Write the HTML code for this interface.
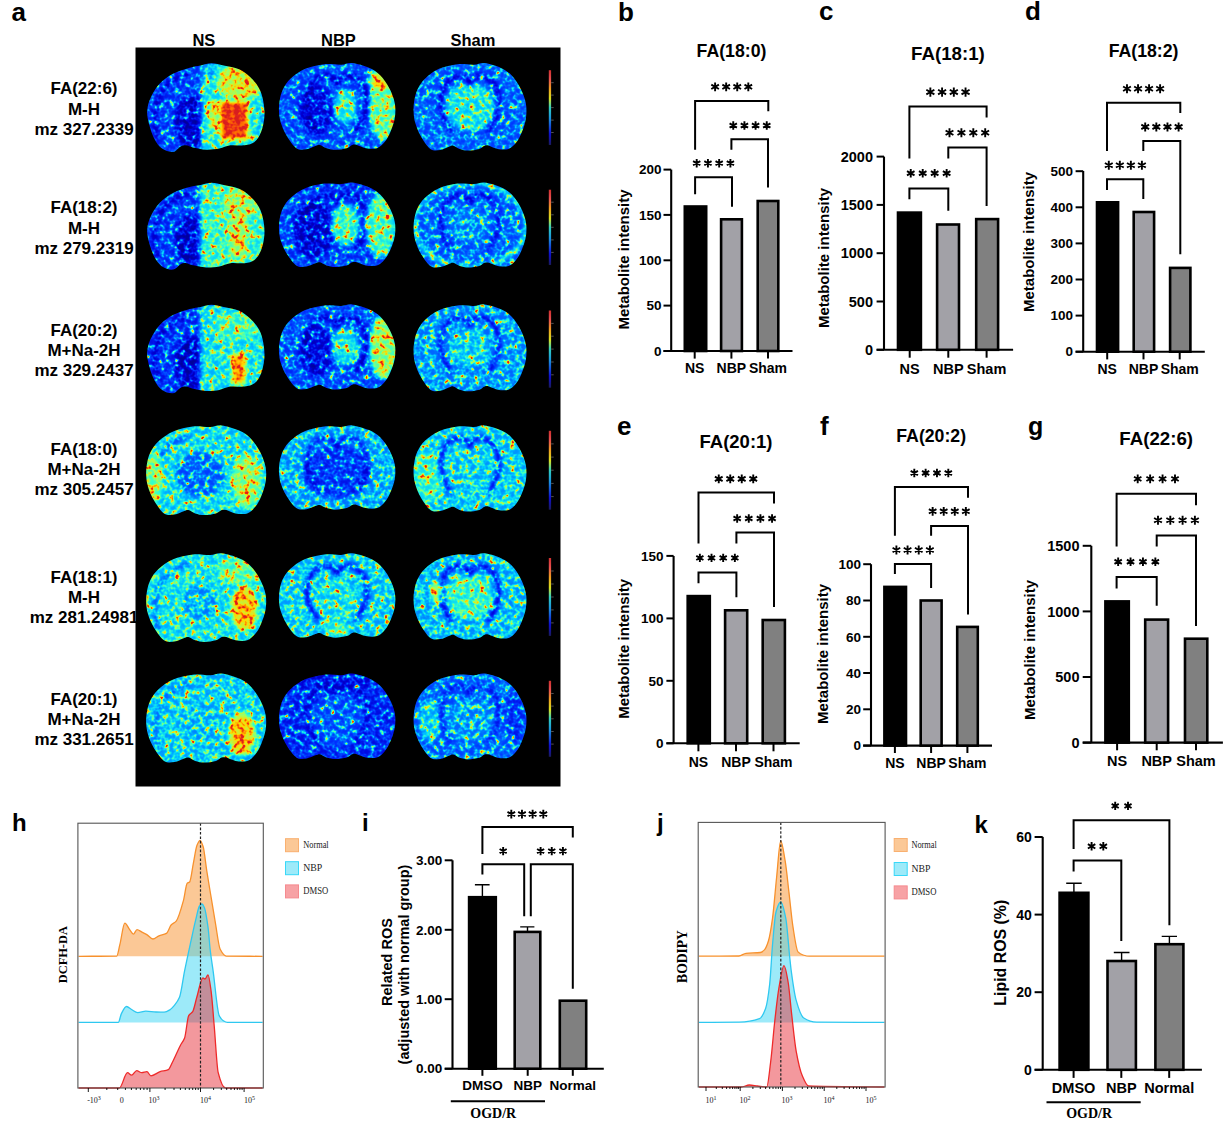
<!DOCTYPE html>
<html><head><meta charset="utf-8"><title>Figure</title>
<style>html,body{margin:0;padding:0;background:#fff;overflow:hidden}svg{display:block}</style></head>
<body><svg width="1226" height="1129" viewBox="0 0 1226 1129">
<defs>
<filter id='jet' filterUnits='userSpaceOnUse' x='136' y='48' width='424' height='738' color-interpolation-filters='sRGB'>
<feGaussianBlur in='SourceGraphic' stdDeviation='2' result='src'/>
<feTurbulence type='fractalNoise' baseFrequency='0.2' numOctaves='2' seed='7' result='n0'/>
<feColorMatrix in='n0' type='matrix' values='1 0 0 0 0  1 0 0 0 0  1 0 0 0 0  0 0 0 0 1' result='n1'/>
<feComponentTransfer in='n1' result='n2'>
<feFuncR type='gamma' amplitude='1.3' exponent='4.0' offset='0'/>
<feFuncG type='gamma' amplitude='1.3' exponent='4.0' offset='0'/>
<feFuncB type='gamma' amplitude='1.3' exponent='4.0' offset='0'/>
</feComponentTransfer>
<feComposite in='src' in2='n2' operator='arithmetic' k1='0' k2='1' k3='1' k4='-0.082' result='sum'/>
<feColorMatrix in='sum' type='matrix' values='1 0 0 0 0  1 0 0 0 0  1 0 0 0 0  0 0 0 0 1' result='sum2'/>
<feComponentTransfer in='sum2'>
<feFuncR type='table' tableValues='0 0 0 0 0 0.2 0.65 1 1 0.9 0.85'/>
<feFuncG type='table' tableValues='0 0 0.2 0.45 0.8 1 1 0.85 0.45 0.15 0.12'/>
<feFuncB type='table' tableValues='0.55 0.85 1 1 1 0.8 0.35 0 0 0.1 0.12'/>
</feComponentTransfer>
</filter>
<clipPath id='br00'><path d='M211.60 63.30C215.45 63.30 219.12 64.50 223.70 65.50C228.28 66.50 234.70 67.38 239.10 69.30C243.50 71.22 246.80 73.88 250.10 77.00C253.40 80.12 256.70 83.95 258.90 88.00C261.10 92.05 262.38 96.52 263.30 101.30C264.22 106.08 264.77 111.57 264.40 116.70C264.03 121.83 262.75 127.88 261.10 132.10C259.45 136.32 257.25 139.80 254.50 142.00C251.75 144.20 248.63 144.75 244.60 145.30C240.57 145.85 234.52 144.75 230.30 145.30C226.08 145.85 223.33 147.87 219.30 148.60C215.27 149.33 210.50 149.88 206.10 149.70C201.70 149.52 196.20 148.23 192.90 147.50C189.60 146.77 188.33 145.48 186.30 145.30C184.27 145.12 182.92 145.30 180.70 146.40C178.48 147.50 176.12 151.53 173.00 151.90C169.88 152.27 165.12 150.80 162.00 148.60C158.88 146.40 156.50 142.92 154.30 138.70C152.10 134.48 149.98 128.07 148.80 123.30C147.62 118.53 146.83 114.50 147.20 110.10C147.57 105.70 148.90 101.32 151.00 96.90C153.10 92.48 156.13 87.47 159.80 83.60C163.47 79.73 168.03 76.35 173.00 73.70C177.97 71.05 185.00 69.07 189.60 67.70C194.20 66.33 196.93 66.23 200.60 65.50C204.27 64.77 207.75 63.30 211.60 63.30Z'/></clipPath>
<clipPath id='br01'><path d='M279.58 101.02C280.24 97.27 281.09 93.05 282.94 89.30C284.80 85.55 287.00 81.95 290.71 78.54C294.41 75.12 299.61 71.22 305.19 68.82C310.78 66.41 318.23 64.82 324.20 64.13C330.17 63.43 336.33 64.84 341.01 64.65C345.68 64.46 347.57 62.46 352.25 63.00C356.92 63.54 364.40 65.81 369.05 67.86C373.71 69.92 376.82 71.95 380.18 75.33C383.54 78.70 386.79 83.44 389.22 88.09C391.65 92.73 393.86 98.18 394.78 103.19C395.71 108.19 395.52 113.30 394.78 118.12C394.05 122.94 392.04 128.14 390.38 132.09C388.72 136.04 387.06 139.14 384.82 141.81C382.58 144.49 380.12 147.09 376.94 148.15C373.75 149.21 369.05 148.69 365.69 148.15C362.33 147.62 359.01 145.47 356.77 144.94C354.53 144.40 353.93 144.40 352.25 144.94C350.57 145.47 349.49 147.34 346.69 148.15C343.88 148.96 338.80 149.80 335.44 149.80C332.08 149.80 329.11 148.96 326.52 148.15C323.93 147.34 321.77 145.29 319.91 144.94C318.06 144.59 317.63 145.34 315.39 146.07C313.15 146.79 309.66 148.93 306.47 149.28C303.28 149.63 299.63 150.48 296.27 148.15C292.91 145.82 288.89 139.59 286.30 135.30C283.71 131.02 281.96 126.38 280.74 122.46C279.52 118.54 279.19 115.35 279.00 111.78C278.81 108.21 278.92 104.77 279.58 101.02Z'/></clipPath>
<clipPath id='br02'><path d='M414.16 101.37C414.80 97.59 415.62 93.32 417.42 89.54C419.22 85.76 421.36 82.13 424.95 78.68C428.55 75.23 433.59 71.29 439.00 68.87C444.42 66.45 451.65 64.84 457.44 64.14C463.22 63.44 469.20 64.85 473.73 64.66C478.27 64.47 480.10 62.46 484.64 63.00C489.17 63.54 496.42 65.83 500.93 67.91C505.45 69.98 508.47 72.04 511.73 75.44C514.98 78.84 518.13 83.63 520.49 88.32C522.85 93.00 524.99 98.51 525.89 103.56C526.79 108.61 526.60 113.76 525.89 118.63C525.18 123.49 523.23 128.74 521.62 132.73C520.01 136.72 518.39 139.84 516.22 142.54C514.05 145.24 511.67 147.87 508.58 148.94C505.49 150.00 500.93 149.48 497.68 148.94C494.42 148.40 491.19 146.23 489.02 145.69C486.85 145.15 486.27 145.15 484.64 145.69C483.01 146.23 481.96 148.12 479.24 148.94C476.53 149.75 471.60 150.60 468.34 150.60C465.08 150.60 462.19 149.75 459.68 148.94C457.17 148.12 455.08 146.04 453.28 145.69C451.48 145.34 451.07 146.10 448.89 146.83C446.72 147.56 443.33 149.72 440.24 150.07C437.15 150.42 433.61 151.29 430.35 148.94C427.09 146.58 423.19 140.29 420.68 135.97C418.17 131.65 416.47 126.96 415.29 123.01C414.11 119.05 413.79 115.84 413.60 112.23C413.41 108.62 413.53 105.15 414.16 101.37Z'/></clipPath>
<clipPath id='br10'><path d='M211.60 182.79C215.45 182.79 219.12 183.97 223.70 184.95C228.28 185.93 234.70 186.80 239.10 188.67C243.50 190.55 246.80 193.17 250.10 196.22C253.40 199.27 256.70 203.03 258.90 207.00C261.10 210.97 262.38 215.34 263.30 220.03C264.22 224.72 264.77 230.09 264.40 235.12C264.03 240.15 262.75 246.08 261.10 250.21C259.45 254.35 257.25 257.76 254.50 259.92C251.75 262.07 248.63 262.61 244.60 263.15C240.57 263.69 234.52 262.61 230.30 263.15C226.08 263.69 223.33 265.67 219.30 266.38C215.27 267.10 210.50 267.64 206.10 267.46C201.70 267.28 196.20 266.02 192.90 265.31C189.60 264.59 188.33 263.33 186.30 263.15C184.27 262.97 182.92 263.15 180.70 264.23C178.48 265.31 176.12 269.26 173.00 269.62C169.88 269.98 165.12 268.54 162.00 266.38C158.88 264.23 156.50 260.81 154.30 256.68C152.10 252.55 149.98 246.26 148.80 241.59C147.62 236.92 146.83 232.97 147.20 228.66C147.57 224.34 148.90 220.05 151.00 215.72C153.10 211.39 156.13 206.48 159.80 202.69C163.47 198.90 168.03 195.58 173.00 192.99C177.97 190.39 185.00 188.45 189.60 187.11C194.20 185.77 196.93 185.67 200.60 184.95C204.27 184.23 207.75 182.79 211.60 182.79Z'/></clipPath>
<clipPath id='br11'><path d='M279.58 219.51C280.24 215.86 281.09 211.75 282.94 208.10C284.80 204.46 287.00 200.95 290.71 197.63C294.41 194.30 299.61 190.50 305.19 188.16C310.78 185.82 318.23 184.27 324.20 183.60C330.17 182.92 336.33 184.29 341.01 184.11C345.68 183.92 347.57 181.98 352.25 182.50C356.92 183.02 364.40 185.23 369.05 187.23C373.71 189.23 376.82 191.22 380.18 194.50C383.54 197.78 386.79 202.40 389.22 206.92C391.65 211.44 393.86 216.75 394.78 221.62C395.71 226.50 395.52 231.47 394.78 236.16C394.05 240.85 392.04 245.92 390.38 249.76C388.72 253.61 387.06 256.62 384.82 259.23C382.58 261.83 380.12 264.37 376.94 265.39C373.75 266.42 369.05 265.92 365.69 265.39C362.33 264.87 359.01 262.79 356.77 262.27C354.53 261.75 353.93 261.75 352.25 262.27C350.57 262.79 349.49 264.61 346.69 265.39C343.88 266.18 338.80 267.00 335.44 267.00C332.08 267.00 329.11 266.18 326.52 265.39C323.93 264.61 321.77 262.61 319.91 262.27C318.06 261.93 317.63 262.66 315.39 263.37C313.15 264.07 309.66 266.15 306.47 266.49C303.28 266.83 299.63 267.66 296.27 265.39C292.91 263.13 288.89 257.06 286.30 252.89C283.71 248.72 281.96 244.20 280.74 240.38C279.52 236.57 279.19 233.47 279.00 229.99C278.81 226.51 278.92 223.16 279.58 219.51Z'/></clipPath>
<clipPath id='br12'><path d='M414.16 219.77C414.80 216.10 415.62 211.96 417.42 208.29C419.22 204.61 421.36 201.08 424.95 197.73C428.55 194.39 433.59 190.56 439.00 188.20C444.42 185.85 451.65 184.29 457.44 183.61C463.22 182.93 469.20 184.30 473.73 184.12C478.27 183.93 480.10 181.98 484.64 182.50C489.17 183.02 496.42 185.25 500.93 187.27C505.45 189.28 508.47 191.28 511.73 194.58C514.98 197.89 518.13 202.54 520.49 207.09C522.85 211.65 524.99 216.99 525.89 221.90C526.79 226.81 526.60 231.82 525.89 236.54C525.18 241.26 523.23 246.37 521.62 250.24C520.01 254.11 518.39 257.15 516.22 259.77C514.05 262.39 511.67 264.95 508.58 265.98C505.49 267.02 500.93 266.51 497.68 265.98C494.42 265.46 491.19 263.36 489.02 262.83C486.85 262.31 486.27 262.31 484.64 262.83C483.01 263.36 481.96 265.19 479.24 265.98C476.53 266.78 471.60 267.60 468.34 267.60C465.08 267.60 462.19 266.78 459.68 265.98C457.17 265.19 455.08 263.17 453.28 262.83C451.48 262.49 451.07 263.23 448.89 263.94C446.72 264.65 443.33 266.75 440.24 267.09C437.15 267.43 433.61 268.27 430.35 265.98C427.09 263.70 423.19 257.59 420.68 253.39C418.17 249.19 416.47 244.64 415.29 240.79C414.11 236.95 413.79 233.83 413.60 230.33C413.41 226.82 413.53 223.45 414.16 219.77Z'/></clipPath>
<clipPath id='br20'><path d='M211.60 304.70C215.45 304.70 219.12 305.90 223.70 306.90C228.28 307.90 234.70 308.78 239.10 310.69C243.50 312.61 246.80 315.27 250.10 318.38C253.40 321.50 256.70 325.33 258.90 329.37C261.10 333.42 262.38 337.88 263.30 342.66C264.22 347.44 264.77 352.91 264.40 358.04C264.03 363.17 262.75 369.21 261.10 373.42C259.45 377.64 257.25 381.11 254.50 383.31C251.75 385.51 248.63 386.06 244.60 386.61C240.57 387.16 234.52 386.06 230.30 386.61C226.08 387.16 223.33 389.17 219.30 389.90C215.27 390.64 210.50 391.19 206.10 391.00C201.70 390.82 196.20 389.54 192.90 388.81C189.60 388.07 188.33 386.79 186.30 386.61C184.27 386.43 182.92 386.61 180.70 387.71C178.48 388.81 176.12 392.83 173.00 393.20C169.88 393.57 165.12 392.10 162.00 389.90C158.88 387.71 156.50 384.23 154.30 380.02C152.10 375.80 149.98 369.39 148.80 364.63C147.62 359.87 146.83 355.84 147.20 351.45C147.57 347.05 148.90 342.67 151.00 338.26C153.10 333.85 156.13 328.84 159.80 324.98C163.47 321.11 168.03 317.74 173.00 315.09C177.97 312.44 185.00 310.46 189.60 309.09C194.20 307.73 196.93 307.63 200.60 306.90C204.27 306.16 207.75 304.70 211.60 304.70Z'/></clipPath>
<clipPath id='br21'><path d='M279.58 341.67C280.24 338.00 281.09 333.86 282.94 330.19C284.80 326.51 287.00 322.98 290.71 319.63C294.41 316.29 299.61 312.46 305.19 310.10C310.78 307.75 318.23 306.19 324.20 305.51C330.17 304.83 336.33 306.20 341.01 306.02C345.68 305.83 347.57 303.88 352.25 304.40C356.92 304.92 364.40 307.15 369.05 309.17C373.71 311.18 376.82 313.18 380.18 316.48C383.54 319.79 386.79 324.44 389.22 328.99C391.65 333.55 393.86 338.89 394.78 343.80C395.71 348.71 395.52 353.72 394.78 358.44C394.05 363.16 392.04 368.27 390.38 372.14C388.72 376.01 387.06 379.05 384.82 381.67C382.58 384.29 380.12 386.85 376.94 387.88C373.75 388.92 369.05 388.41 365.69 387.88C362.33 387.36 359.01 385.26 356.77 384.73C354.53 384.21 353.93 384.21 352.25 384.73C350.57 385.26 349.49 387.09 346.69 387.88C343.88 388.68 338.80 389.50 335.44 389.50C332.08 389.50 329.11 388.68 326.52 387.88C323.93 387.09 321.77 385.07 319.91 384.73C318.06 384.39 317.63 385.13 315.39 385.84C313.15 386.55 309.66 388.65 306.47 388.99C303.28 389.33 299.63 390.17 296.27 387.88C292.91 385.60 288.89 379.49 286.30 375.29C283.71 371.09 281.96 366.54 280.74 362.69C279.52 358.85 279.19 355.73 279.00 352.23C278.81 348.72 278.92 345.35 279.58 341.67Z'/></clipPath>
<clipPath id='br22'><path d='M414.16 342.46C414.80 338.71 415.62 334.48 417.42 330.73C419.22 326.98 421.36 323.37 424.95 319.96C428.55 316.54 433.59 312.63 439.00 310.22C444.42 307.82 451.65 306.22 457.44 305.53C463.22 304.83 469.20 306.24 473.73 306.05C478.27 305.86 480.10 303.86 484.64 304.40C489.17 304.94 496.42 307.21 500.93 309.27C505.45 311.32 508.47 313.37 511.73 316.74C514.98 320.11 518.13 324.86 520.49 329.51C522.85 334.16 524.99 339.62 525.89 344.63C526.79 349.65 526.60 354.76 525.89 359.58C525.18 364.40 523.23 369.62 521.62 373.57C520.01 377.53 518.39 380.63 516.22 383.31C514.05 385.98 511.67 388.59 508.58 389.65C505.49 390.71 500.93 390.18 497.68 389.65C494.42 389.11 491.19 386.97 489.02 386.43C486.85 385.90 486.27 385.90 484.64 386.43C483.01 386.97 481.96 388.84 479.24 389.65C476.53 390.46 471.60 391.30 468.34 391.30C465.08 391.30 462.19 390.46 459.68 389.65C457.17 388.84 455.08 386.78 453.28 386.43C451.48 386.09 451.07 386.84 448.89 387.56C446.72 388.29 443.33 390.43 440.24 390.78C437.15 391.13 433.61 391.98 430.35 389.65C427.09 387.32 423.19 381.07 420.68 376.79C418.17 372.50 416.47 367.85 415.29 363.93C414.11 360.00 413.79 356.82 413.60 353.24C413.41 349.66 413.53 346.21 414.16 342.46Z'/></clipPath>
<clipPath id='br30'><path d='M146.80 464.69C147.47 460.82 148.35 456.45 150.26 452.58C152.17 448.71 154.45 444.98 158.27 441.46C162.09 437.93 167.45 433.89 173.21 431.41C178.96 428.93 186.65 427.28 192.81 426.57C198.96 425.85 205.31 427.30 210.13 427.10C214.95 426.91 216.90 424.85 221.72 425.40C226.54 425.95 234.25 428.30 239.05 430.42C243.85 432.55 247.06 434.65 250.52 438.14C253.99 441.62 257.33 446.52 259.84 451.32C262.35 456.12 264.62 461.76 265.58 466.93C266.54 472.10 266.34 477.38 265.58 482.36C264.82 487.34 262.75 492.72 261.04 496.80C259.33 500.88 257.61 504.08 255.30 506.85C252.99 509.61 250.46 512.30 247.18 513.40C243.89 514.49 239.05 513.95 235.59 513.40C232.12 512.84 228.69 510.63 226.38 510.08C224.07 509.52 223.46 509.52 221.72 510.08C219.99 510.63 218.88 512.56 215.99 513.40C213.10 514.23 207.86 515.10 204.40 515.10C200.93 515.10 197.86 514.23 195.19 513.40C192.53 512.56 190.30 510.44 188.38 510.08C186.47 509.72 186.03 510.50 183.72 511.24C181.41 511.99 177.81 514.20 174.52 514.56C171.24 514.92 167.47 515.80 164.01 513.40C160.54 510.99 156.40 504.55 153.73 500.12C151.06 495.69 149.25 490.90 147.99 486.84C146.74 482.79 146.40 479.50 146.20 475.81C146.00 472.12 146.12 468.56 146.80 464.69Z'/></clipPath>
<clipPath id='br31'><path d='M279.58 462.32C280.24 458.68 281.09 454.58 282.94 450.94C284.80 447.30 287.00 443.81 290.71 440.49C294.41 437.17 299.61 433.38 305.19 431.05C310.78 428.72 318.23 427.17 324.20 426.50C330.17 425.82 336.33 427.18 341.01 427.00C345.68 426.82 347.57 424.88 352.25 425.40C356.92 425.92 364.40 428.13 369.05 430.12C373.71 432.12 376.82 434.10 380.18 437.37C383.54 440.64 386.79 445.25 389.22 449.76C391.65 454.27 393.86 459.57 394.78 464.43C395.71 469.29 395.52 474.25 394.78 478.93C394.05 483.61 392.04 488.67 390.38 492.50C388.72 496.34 387.06 499.35 384.82 501.94C382.58 504.54 380.12 507.07 376.94 508.10C373.75 509.12 369.05 508.62 365.69 508.10C362.33 507.58 359.01 505.50 356.77 504.98C354.53 504.46 353.93 504.46 352.25 504.98C350.57 505.50 349.49 507.31 346.69 508.10C343.88 508.89 338.80 509.70 335.44 509.70C332.08 509.70 329.11 508.89 326.52 508.10C323.93 507.31 321.77 505.32 319.91 504.98C318.06 504.64 317.63 505.37 315.39 506.08C313.15 506.78 309.66 508.86 306.47 509.19C303.28 509.53 299.63 510.36 296.27 508.10C292.91 505.84 288.89 499.78 286.30 495.62C283.71 491.46 281.96 486.95 280.74 483.15C279.52 479.34 279.19 476.25 279.00 472.78C278.81 469.31 278.92 465.96 279.58 462.32Z'/></clipPath>
<clipPath id='br32'><path d='M414.16 463.16C414.80 459.43 415.62 455.24 417.42 451.52C419.22 447.80 421.36 444.22 424.95 440.83C428.55 437.44 433.59 433.56 439.00 431.18C444.42 428.79 451.65 427.21 457.44 426.52C463.22 425.83 469.20 427.22 473.73 427.04C478.27 426.85 480.10 424.87 484.64 425.40C489.17 425.93 496.42 428.19 500.93 430.23C505.45 432.27 508.47 434.29 511.73 437.64C514.98 440.99 518.13 445.70 520.49 450.31C522.85 454.92 524.99 460.34 525.89 465.31C526.79 470.28 526.60 475.35 525.89 480.14C525.18 484.92 523.23 490.09 521.62 494.02C520.01 497.94 518.39 501.01 516.22 503.67C514.05 506.33 511.67 508.91 508.58 509.96C505.49 511.01 500.93 510.49 497.68 509.96C494.42 509.43 491.19 507.30 489.02 506.77C486.85 506.24 486.27 506.24 484.64 506.77C483.01 507.30 481.96 509.16 479.24 509.96C476.53 510.77 471.60 511.60 468.34 511.60C465.08 511.60 462.19 510.77 459.68 509.96C457.17 509.16 455.08 507.12 453.28 506.77C451.48 506.43 451.07 507.18 448.89 507.89C446.72 508.61 443.33 510.74 440.24 511.08C437.15 511.43 433.61 512.28 430.35 509.96C427.09 507.65 423.19 501.46 420.68 497.20C418.17 492.95 416.47 488.34 415.29 484.45C414.11 480.55 413.79 477.39 413.60 473.84C413.41 470.30 413.53 466.88 414.16 463.16Z'/></clipPath>
<clipPath id='br40'><path d='M146.80 592.15C147.47 588.32 148.35 584.00 150.26 580.18C152.17 576.35 154.45 572.67 158.27 569.18C162.09 565.69 167.45 561.70 173.21 559.24C178.96 556.79 186.65 555.16 192.81 554.45C198.96 553.74 205.31 555.18 210.13 554.99C214.95 554.79 216.90 552.75 221.72 553.30C226.54 553.85 234.25 556.17 239.05 558.27C243.85 560.37 247.06 562.45 250.52 565.90C253.99 569.34 257.33 574.19 259.84 578.93C262.35 583.68 264.62 589.25 265.58 594.37C266.54 599.48 266.34 604.70 265.58 609.62C264.82 614.55 262.75 619.87 261.04 623.91C259.33 627.94 257.61 631.10 255.30 633.84C252.99 636.57 250.46 639.24 247.18 640.31C243.89 641.39 239.05 640.86 235.59 640.31C232.12 639.77 228.69 637.58 226.38 637.03C224.07 636.49 223.46 636.49 221.72 637.03C219.99 637.58 218.88 639.49 215.99 640.31C213.10 641.14 207.86 642.00 204.40 642.00C200.93 642.00 197.86 641.14 195.19 640.31C192.53 639.49 190.30 637.39 188.38 637.03C186.47 636.68 186.03 637.45 183.72 638.19C181.41 638.93 177.81 641.11 174.52 641.47C171.24 641.82 167.47 642.69 164.01 640.31C160.54 637.93 156.40 631.56 153.73 627.19C151.06 622.81 149.25 618.07 147.99 614.06C146.74 610.05 146.40 606.80 146.20 603.15C146.00 599.50 146.12 595.98 146.80 592.15Z'/></clipPath>
<clipPath id='br41'><path d='M279.58 590.27C280.24 586.62 281.09 582.52 282.94 578.87C284.80 575.23 287.00 571.73 290.71 568.41C294.41 565.09 299.61 561.29 305.19 558.95C310.78 556.62 318.23 555.07 324.20 554.40C330.17 553.72 336.33 555.09 341.01 554.90C345.68 554.72 347.57 552.78 352.25 553.30C356.92 553.82 364.40 556.03 369.05 558.03C373.71 560.02 376.82 562.01 380.18 565.28C383.54 568.56 386.79 573.18 389.22 577.69C391.65 582.21 393.86 587.51 394.78 592.38C395.71 597.24 395.52 602.21 394.78 606.89C394.05 611.58 392.04 616.64 390.38 620.48C388.72 624.32 387.06 627.33 384.82 629.94C382.58 632.54 380.12 635.07 376.94 636.10C373.75 637.12 369.05 636.62 365.69 636.10C362.33 635.58 359.01 633.49 356.77 632.97C354.53 632.45 353.93 632.45 352.25 632.97C350.57 633.49 349.49 635.31 346.69 636.10C343.88 636.88 338.80 637.70 335.44 637.70C332.08 637.70 329.11 636.88 326.52 636.10C323.93 635.31 321.77 633.31 319.91 632.97C318.06 632.64 317.63 633.37 315.39 634.07C313.15 634.77 309.66 636.86 306.47 637.19C303.28 637.53 299.63 638.36 296.27 636.10C292.91 633.83 288.89 627.77 286.30 623.61C283.71 619.44 281.96 614.93 280.74 611.11C279.52 607.30 279.19 604.21 279.00 600.73C278.81 597.26 278.92 593.91 279.58 590.27Z'/></clipPath>
<clipPath id='br42'><path d='M414.16 591.10C414.80 587.37 415.62 583.17 417.42 579.45C419.22 575.72 421.36 572.14 424.95 568.75C428.55 565.35 433.59 561.47 439.00 559.08C444.42 556.69 451.65 555.11 457.44 554.42C463.22 553.73 469.20 555.13 473.73 554.94C478.27 554.75 480.10 552.77 484.64 553.30C489.17 553.83 496.42 556.09 500.93 558.13C505.45 560.18 508.47 562.20 511.73 565.55C514.98 568.91 518.13 573.62 520.49 578.24C522.85 582.86 524.99 588.28 525.89 593.26C526.79 598.23 526.60 603.31 525.89 608.10C525.18 612.89 523.23 618.07 521.62 621.99C520.01 625.92 518.39 629.00 516.22 631.66C514.05 634.32 511.67 636.91 508.58 637.96C505.49 639.01 500.93 638.49 497.68 637.96C494.42 637.43 491.19 635.30 489.02 634.77C486.85 634.24 486.27 634.24 484.64 634.77C483.01 635.30 481.96 637.15 479.24 637.96C476.53 638.77 471.60 639.60 468.34 639.60C465.08 639.60 462.19 638.77 459.68 637.96C457.17 637.15 455.08 635.11 453.28 634.77C451.48 634.42 451.07 635.17 448.89 635.89C446.72 636.61 443.33 638.74 440.24 639.08C437.15 639.43 433.61 640.28 430.35 637.96C427.09 635.64 423.19 629.45 420.68 625.19C418.17 620.93 416.47 616.31 415.29 612.42C414.11 608.52 413.79 605.35 413.60 601.80C413.41 598.25 413.53 594.82 414.16 591.10Z'/></clipPath>
<clipPath id='br50'><path d='M146.80 712.58C147.47 708.74 148.35 704.41 150.26 700.57C152.17 696.73 154.45 693.03 158.27 689.53C162.09 686.03 167.45 682.03 173.21 679.56C178.96 677.10 186.65 675.47 192.81 674.76C198.96 674.05 205.31 675.48 210.13 675.29C214.95 675.10 216.90 673.05 221.72 673.60C226.54 674.15 234.25 676.48 239.05 678.58C243.85 680.69 247.06 682.78 250.52 686.24C253.99 689.69 257.33 694.56 259.84 699.32C262.35 704.08 264.62 709.67 265.58 714.81C266.54 719.94 266.34 725.18 265.58 730.12C264.82 735.05 262.75 740.39 261.04 744.44C259.33 748.49 257.61 751.67 255.30 754.41C252.99 757.16 250.46 759.83 247.18 760.91C243.89 761.99 239.05 761.46 235.59 760.91C232.12 760.36 228.69 758.16 226.38 757.62C224.07 757.07 223.46 757.07 221.72 757.62C219.99 758.16 218.88 760.08 215.99 760.91C213.10 761.74 207.86 762.60 204.40 762.60C200.93 762.60 197.86 761.74 195.19 760.91C192.53 760.08 190.30 757.97 188.38 757.62C186.47 757.26 186.03 758.03 183.72 758.77C181.41 759.51 177.81 761.71 174.52 762.07C171.24 762.42 167.47 763.30 164.01 760.91C160.54 758.52 156.40 752.13 153.73 747.74C151.06 743.35 149.25 738.58 147.99 734.57C146.74 730.55 146.40 727.28 146.20 723.62C146.00 719.95 146.12 716.42 146.80 712.58Z'/></clipPath>
<clipPath id='br51'><path d='M279.58 711.01C280.24 707.32 281.09 703.16 282.94 699.48C284.80 695.79 287.00 692.25 290.71 688.89C294.41 685.53 299.61 681.68 305.19 679.32C310.78 676.96 318.23 675.39 324.20 674.71C330.17 674.03 336.33 675.41 341.01 675.22C345.68 675.04 347.57 673.07 352.25 673.60C356.92 674.13 364.40 676.36 369.05 678.38C373.71 680.40 376.82 682.41 380.18 685.73C383.54 689.04 386.79 693.71 389.22 698.28C391.65 702.85 393.86 708.22 394.78 713.14C395.71 718.06 395.52 723.09 394.78 727.83C394.05 732.57 392.04 737.69 390.38 741.58C388.72 745.46 387.06 748.51 384.82 751.14C382.58 753.78 380.12 756.34 376.94 757.38C373.75 758.42 369.05 757.90 365.69 757.38C362.33 756.85 359.01 754.74 356.77 754.22C354.53 753.69 353.93 753.69 352.25 754.22C350.57 754.74 349.49 756.58 346.69 757.38C343.88 758.17 338.80 759.00 335.44 759.00C332.08 759.00 329.11 758.17 326.52 757.38C323.93 756.58 321.77 754.56 319.91 754.22C318.06 753.88 317.63 754.62 315.39 755.33C313.15 756.04 309.66 758.15 306.47 758.49C303.28 758.83 299.63 759.67 296.27 757.38C292.91 755.09 288.89 748.95 286.30 744.74C283.71 740.53 281.96 735.96 280.74 732.10C279.52 728.24 279.19 725.11 279.00 721.59C278.81 718.08 278.92 714.69 279.58 711.01Z'/></clipPath>
<clipPath id='br52'><path d='M414.16 711.18C414.80 707.48 415.62 703.30 417.42 699.60C419.22 695.89 421.36 692.33 424.95 688.96C428.55 685.58 433.59 681.72 439.00 679.35C444.42 676.97 451.65 675.40 457.44 674.72C463.22 674.03 469.20 675.42 473.73 675.23C478.27 675.04 480.10 673.07 484.64 673.60C489.17 674.13 496.42 676.37 500.93 678.40C505.45 680.44 508.47 682.45 511.73 685.78C514.98 689.12 518.13 693.81 520.49 698.40C522.85 702.99 524.99 708.38 525.89 713.33C526.79 718.27 526.60 723.32 525.89 728.08C525.18 732.84 523.23 737.99 521.62 741.90C520.01 745.80 518.39 748.86 516.22 751.51C514.05 754.15 511.67 756.73 508.58 757.77C505.49 758.81 500.93 758.30 497.68 757.77C494.42 757.24 491.19 755.12 489.02 754.60C486.85 754.07 486.27 754.07 484.64 754.60C483.01 755.12 481.96 756.97 479.24 757.77C476.53 758.57 471.60 759.40 468.34 759.40C465.08 759.40 462.19 758.57 459.68 757.77C457.17 756.97 455.08 754.94 453.28 754.60C451.48 754.25 451.07 755.00 448.89 755.71C446.72 756.43 443.33 758.54 440.24 758.89C437.15 759.23 433.61 760.07 430.35 757.77C427.09 755.47 423.19 749.30 420.68 745.07C418.17 740.84 416.47 736.25 415.29 732.37C414.11 728.50 413.79 725.35 413.60 721.82C413.41 718.29 413.53 714.88 414.16 711.18Z'/></clipPath>
<linearGradient id='cbg' x1='0' y1='1' x2='0' y2='0'>
<stop offset='0' stop-color='#1a1a5a'/><stop offset='0.15' stop-color='#1010d0'/><stop offset='0.35' stop-color='#1a90e0'/>
<stop offset='0.5' stop-color='#30d0c0'/><stop offset='0.62' stop-color='#d8e020'/><stop offset='0.75' stop-color='#f0a020'/>
<stop offset='0.88' stop-color='#e85050'/><stop offset='1' stop-color='#d03030'/></linearGradient>
</defs>
<rect width="1226" height="1129" fill="#fff"/>
<path d='M671.2 169.6V351.0' stroke='#000' stroke-width='2.1' fill='none'/>
<path d='M663.5 351.0H792.5' stroke='#000' stroke-width='2.1' fill='none'/>
<path d='M663.5 351.0H671.2' stroke='#000' stroke-width='2' fill='none'/>
<text x='661.5' y='355.7' font-family="'Liberation Sans',sans-serif" font-weight='bold' font-size='13.5' text-anchor='end' fill='#000' >0</text>
<path d='M663.5 305.6H671.2' stroke='#000' stroke-width='2' fill='none'/>
<text x='661.5' y='310.4' font-family="'Liberation Sans',sans-serif" font-weight='bold' font-size='13.5' text-anchor='end' fill='#000' >50</text>
<path d='M663.5 260.3H671.2' stroke='#000' stroke-width='2' fill='none'/>
<text x='661.5' y='265.0' font-family="'Liberation Sans',sans-serif" font-weight='bold' font-size='13.5' text-anchor='end' fill='#000' >100</text>
<path d='M663.5 214.9H671.2' stroke='#000' stroke-width='2' fill='none'/>
<text x='661.5' y='219.7' font-family="'Liberation Sans',sans-serif" font-weight='bold' font-size='13.5' text-anchor='end' fill='#000' >150</text>
<path d='M663.5 169.6H671.2' stroke='#000' stroke-width='2' fill='none'/>
<text x='661.5' y='174.3' font-family="'Liberation Sans',sans-serif" font-weight='bold' font-size='13.5' text-anchor='end' fill='#000' >200</text>
<rect x='684.8' y='206.5' width='21.4' height='144.5' fill='#000000' stroke='#000' stroke-width='2.6'/>
<rect x='721.1' y='219.3' width='20.8' height='131.7' fill='#a2a1a7' stroke='#000' stroke-width='2.6'/>
<rect x='757.7' y='201.0' width='20.6' height='150.0' fill='#808080' stroke='#000' stroke-width='2.6'/>
<path d='M694.7 351.0V358.6' stroke='#000' stroke-width='2' fill='none'/>
<path d='M731.4 351.0V358.6' stroke='#000' stroke-width='2' fill='none'/>
<path d='M768.0 351.0V358.6' stroke='#000' stroke-width='2' fill='none'/>
<text x='694.7' y='373.3' font-family="'Liberation Sans',sans-serif" font-weight='bold' font-size='14' text-anchor='middle' fill='#000' >NS</text>
<text x='731.4' y='373.3' font-family="'Liberation Sans',sans-serif" font-weight='bold' font-size='14' text-anchor='middle' fill='#000' >NBP</text>
<text x='768.0' y='373.3' font-family="'Liberation Sans',sans-serif" font-weight='bold' font-size='14' text-anchor='middle' fill='#000' >Sham</text>
<text x='0.0' y='0.0' font-family="'Liberation Sans',sans-serif" font-weight='bold' font-size='15' text-anchor='middle' fill='#000' transform='translate(623.7,259.5) rotate(-90)' dominant-baseline='central'>Metabolite intensity</text>
<path d='M695.1 149.7V101.0H768.3V111.2M731.4 149.7V139.2H768.0V187.6M695.1 194.2V177.2H732.0V206.8' stroke='#000' stroke-width='2' fill='none' stroke-linejoin='miter'/>
<path d='M715.10 82.40V91.20M711.29 84.60L718.91 89.00M711.29 89.00L718.91 84.60M726.17 82.40V91.20M722.36 84.60L729.98 89.00M722.36 89.00L729.98 84.60M737.23 82.40V91.20M733.42 84.60L741.04 89.00M733.42 89.00L741.04 84.60M748.30 82.40V91.20M744.49 84.60L752.11 89.00M744.49 89.00L752.11 84.60M733.25 121.30V129.80M729.57 123.43L736.93 127.68M729.57 127.68L736.93 123.43M744.42 121.30V129.80M740.74 123.43L748.10 127.68M740.74 127.68L748.10 123.43M755.58 121.30V129.80M751.90 123.43L759.26 127.68M751.90 127.68L759.26 123.43M766.75 121.30V129.80M763.07 123.43L770.43 127.68M763.07 127.68L770.43 123.43M696.70 159.00V167.40M693.06 161.10L700.34 165.30M693.06 165.30L700.34 161.10M707.93 159.00V167.40M704.30 161.10L711.57 165.30M704.30 165.30L711.57 161.10M719.17 159.00V167.40M715.53 161.10L722.80 165.30M715.53 165.30L722.80 161.10M730.40 159.00V167.40M726.76 161.10L734.04 165.30M726.76 165.30L734.04 161.10' stroke='#000' stroke-width='1.9' fill='none'/>
<text x='731.5' y='56.7' font-family="'Liberation Sans',sans-serif" font-weight='bold' font-size='17.7' text-anchor='middle' fill='#000' >FA(18:0)</text>
<text x='618.0' y='20.9' font-family="'Liberation Sans',sans-serif" font-weight='bold' font-size='26' text-anchor='start' fill='#000' >b</text>
<path d='M884.0 156.6V349.8' stroke='#000' stroke-width='2.1' fill='none'/>
<path d='M876.6 349.8H1013.1' stroke='#000' stroke-width='2.1' fill='none'/>
<path d='M876.6 349.8H884.0' stroke='#000' stroke-width='2' fill='none'/>
<text x='873.0' y='354.9' font-family="'Liberation Sans',sans-serif" font-weight='bold' font-size='14.5' text-anchor='end' fill='#000' >0</text>
<path d='M876.6 301.5H884.0' stroke='#000' stroke-width='2' fill='none'/>
<text x='873.0' y='306.6' font-family="'Liberation Sans',sans-serif" font-weight='bold' font-size='14.5' text-anchor='end' fill='#000' >500</text>
<path d='M876.6 253.2H884.0' stroke='#000' stroke-width='2' fill='none'/>
<text x='873.0' y='258.3' font-family="'Liberation Sans',sans-serif" font-weight='bold' font-size='14.5' text-anchor='end' fill='#000' >1000</text>
<path d='M876.6 204.9H884.0' stroke='#000' stroke-width='2' fill='none'/>
<text x='873.0' y='210.0' font-family="'Liberation Sans',sans-serif" font-weight='bold' font-size='14.5' text-anchor='end' fill='#000' >1500</text>
<path d='M876.6 156.6H884.0' stroke='#000' stroke-width='2' fill='none'/>
<text x='873.0' y='161.7' font-family="'Liberation Sans',sans-serif" font-weight='bold' font-size='14.5' text-anchor='end' fill='#000' >2000</text>
<rect x='898.0' y='212.6' width='22.9' height='137.2' fill='#000000' stroke='#000' stroke-width='2.6'/>
<rect x='937.1' y='224.5' width='21.9' height='125.3' fill='#a2a1a7' stroke='#000' stroke-width='2.6'/>
<rect x='976.2' y='219.1' width='21.9' height='130.7' fill='#808080' stroke='#000' stroke-width='2.6'/>
<path d='M909.7 349.8V357.7' stroke='#000' stroke-width='2' fill='none'/>
<path d='M948.3 349.8V357.7' stroke='#000' stroke-width='2' fill='none'/>
<path d='M986.6 349.8V357.7' stroke='#000' stroke-width='2' fill='none'/>
<text x='909.7' y='373.5' font-family="'Liberation Sans',sans-serif" font-weight='bold' font-size='14.5' text-anchor='middle' fill='#000' >NS</text>
<text x='948.3' y='373.5' font-family="'Liberation Sans',sans-serif" font-weight='bold' font-size='14.5' text-anchor='middle' fill='#000' >NBP</text>
<text x='986.6' y='373.5' font-family="'Liberation Sans',sans-serif" font-weight='bold' font-size='14.5' text-anchor='middle' fill='#000' >Sham</text>
<text x='0.0' y='0.0' font-family="'Liberation Sans',sans-serif" font-weight='bold' font-size='15' text-anchor='middle' fill='#000' transform='translate(823.9,258.0) rotate(-90)' dominant-baseline='central'>Metabolite intensity</text>
<path d='M909.4 158.5V106.4H986.6V117.6M948.3 158.5V147.5H986.6V206.0M909.4 199.2V188.4H948.3V210.7' stroke='#000' stroke-width='2' fill='none' stroke-linejoin='miter'/>
<path d='M930.35 87.40V96.70M926.32 89.73L934.38 94.38M926.32 94.38L934.38 89.73M942.08 87.40V96.70M938.06 89.73L946.11 94.38M938.06 94.38L946.11 89.73M953.82 87.40V96.70M949.79 89.73L957.84 94.38M949.79 94.38L957.84 89.73M965.55 87.40V96.70M961.52 89.73L969.58 94.38M961.52 94.38L969.58 89.73M949.50 128.30V137.30M945.60 130.55L953.40 135.05M945.60 135.05L953.40 130.55M961.40 128.30V137.30M957.50 130.55L965.30 135.05M957.50 135.05L965.30 130.55M973.30 128.30V137.30M969.40 130.55L977.20 135.05M969.40 135.05L977.20 130.55M985.20 128.30V137.30M981.30 130.55L989.10 135.05M981.30 135.05L989.10 130.55M910.75 168.90V177.60M906.98 171.08L914.52 175.42M906.98 175.42L914.52 171.08M922.72 168.90V177.60M918.95 171.08L926.48 175.42M918.95 175.42L926.48 171.08M934.68 168.90V177.60M930.92 171.08L938.45 175.42M930.92 175.42L938.45 171.08M946.65 168.90V177.60M942.88 171.08L950.42 175.42M942.88 175.42L950.42 171.08' stroke='#000' stroke-width='1.9' fill='none'/>
<text x='947.9' y='59.9' font-family="'Liberation Sans',sans-serif" font-weight='bold' font-size='18.7' text-anchor='middle' fill='#000' >FA(18:1)</text>
<text x='819.0' y='20.1' font-family="'Liberation Sans',sans-serif" font-weight='bold' font-size='26' text-anchor='start' fill='#000' >c</text>
<path d='M1083.2 171.0V351.7' stroke='#000' stroke-width='2.1' fill='none'/>
<path d='M1075.6 351.7H1204.8' stroke='#000' stroke-width='2.1' fill='none'/>
<path d='M1075.6 351.7H1083.2' stroke='#000' stroke-width='2' fill='none'/>
<text x='1073.0' y='356.4' font-family="'Liberation Sans',sans-serif" font-weight='bold' font-size='13.5' text-anchor='end' fill='#000' >0</text>
<path d='M1075.6 315.6H1083.2' stroke='#000' stroke-width='2' fill='none'/>
<text x='1073.0' y='320.3' font-family="'Liberation Sans',sans-serif" font-weight='bold' font-size='13.5' text-anchor='end' fill='#000' >100</text>
<path d='M1075.6 279.5H1083.2' stroke='#000' stroke-width='2' fill='none'/>
<text x='1073.0' y='284.2' font-family="'Liberation Sans',sans-serif" font-weight='bold' font-size='13.5' text-anchor='end' fill='#000' >200</text>
<path d='M1075.6 243.4H1083.2' stroke='#000' stroke-width='2' fill='none'/>
<text x='1073.0' y='248.1' font-family="'Liberation Sans',sans-serif" font-weight='bold' font-size='13.5' text-anchor='end' fill='#000' >300</text>
<path d='M1075.6 207.3H1083.2' stroke='#000' stroke-width='2' fill='none'/>
<text x='1073.0' y='212.0' font-family="'Liberation Sans',sans-serif" font-weight='bold' font-size='13.5' text-anchor='end' fill='#000' >400</text>
<path d='M1075.6 171.2H1083.2' stroke='#000' stroke-width='2' fill='none'/>
<text x='1073.0' y='175.9' font-family="'Liberation Sans',sans-serif" font-weight='bold' font-size='13.5' text-anchor='end' fill='#000' >500</text>
<rect x='1097.0' y='202.3' width='21.1' height='149.4' fill='#000000' stroke='#000' stroke-width='2.6'/>
<rect x='1133.7' y='212.0' width='20.4' height='139.7' fill='#a2a1a7' stroke='#000' stroke-width='2.6'/>
<rect x='1170.1' y='267.9' width='20.3' height='83.8' fill='#808080' stroke='#000' stroke-width='2.6'/>
<path d='M1107.2 351.7V359.4' stroke='#000' stroke-width='2' fill='none'/>
<path d='M1143.5 351.7V359.4' stroke='#000' stroke-width='2' fill='none'/>
<path d='M1179.7 351.7V359.4' stroke='#000' stroke-width='2' fill='none'/>
<text x='1107.2' y='374.3' font-family="'Liberation Sans',sans-serif" font-weight='bold' font-size='14' text-anchor='middle' fill='#000' >NS</text>
<text x='1143.5' y='374.3' font-family="'Liberation Sans',sans-serif" font-weight='bold' font-size='14' text-anchor='middle' fill='#000' >NBP</text>
<text x='1179.7' y='374.3' font-family="'Liberation Sans',sans-serif" font-weight='bold' font-size='14' text-anchor='middle' fill='#000' >Sham</text>
<text x='0.0' y='0.0' font-family="'Liberation Sans',sans-serif" font-weight='bold' font-size='15' text-anchor='middle' fill='#000' transform='translate(1028.0,242.0) rotate(-90)' dominant-baseline='central'>Metabolite intensity</text>
<path d='M1107.0 151.1V102.7H1180.3V112.9M1143.3 151.1V141.0H1180.3V254.2M1107.0 190.0V179.3H1143.3V199.0' stroke='#000' stroke-width='2' fill='none' stroke-linejoin='miter'/>
<path d='M1127.00 84.20V93.20M1123.10 86.45L1130.90 90.95M1123.10 90.95L1130.90 86.45M1138.03 84.20V93.20M1134.14 86.45L1141.93 90.95M1134.14 90.95L1141.93 86.45M1149.07 84.20V93.20M1145.17 86.45L1152.96 90.95M1145.17 90.95L1152.96 86.45M1160.10 84.20V93.20M1156.20 86.45L1164.00 90.95M1156.20 90.95L1164.00 86.45M1145.20 122.40V131.40M1141.30 124.65L1149.10 129.15M1141.30 129.15L1149.10 124.65M1156.33 122.40V131.40M1152.44 124.65L1160.23 129.15M1152.44 129.15L1160.23 124.65M1167.47 122.40V131.40M1163.57 124.65L1171.36 129.15M1163.57 129.15L1171.36 124.65M1178.60 122.40V131.40M1174.70 124.65L1182.50 129.15M1174.70 129.15L1182.50 124.65M1108.80 160.70V169.70M1104.90 162.95L1112.70 167.45M1104.90 167.45L1112.70 162.95M1119.83 160.70V169.70M1115.94 162.95L1123.73 167.45M1115.94 167.45L1123.73 162.95M1130.87 160.70V169.70M1126.97 162.95L1134.76 167.45M1126.97 167.45L1134.76 162.95M1141.90 160.70V169.70M1138.00 162.95L1145.80 167.45M1138.00 167.45L1145.80 162.95' stroke='#000' stroke-width='1.9' fill='none'/>
<text x='1143.6' y='57.4' font-family="'Liberation Sans',sans-serif" font-weight='bold' font-size='17.7' text-anchor='middle' fill='#000' >FA(18:2)</text>
<text x='1025.0' y='20.1' font-family="'Liberation Sans',sans-serif" font-weight='bold' font-size='26' text-anchor='start' fill='#000' >d</text>
<path d='M673.6 556.0V743.3' stroke='#000' stroke-width='2.1' fill='none'/>
<path d='M666.4 743.3H799.7' stroke='#000' stroke-width='2.1' fill='none'/>
<path d='M666.4 743.3H673.6' stroke='#000' stroke-width='2' fill='none'/>
<text x='663.5' y='748.0' font-family="'Liberation Sans',sans-serif" font-weight='bold' font-size='13.5' text-anchor='end' fill='#000' >0</text>
<path d='M666.4 680.8H673.6' stroke='#000' stroke-width='2' fill='none'/>
<text x='663.5' y='685.6' font-family="'Liberation Sans',sans-serif" font-weight='bold' font-size='13.5' text-anchor='end' fill='#000' >50</text>
<path d='M666.4 618.4H673.6' stroke='#000' stroke-width='2' fill='none'/>
<text x='663.5' y='623.1' font-family="'Liberation Sans',sans-serif" font-weight='bold' font-size='13.5' text-anchor='end' fill='#000' >100</text>
<path d='M666.4 555.9H673.6' stroke='#000' stroke-width='2' fill='none'/>
<text x='663.5' y='560.7' font-family="'Liberation Sans',sans-serif" font-weight='bold' font-size='13.5' text-anchor='end' fill='#000' >150</text>
<rect x='687.7' y='596.1' width='22.1' height='147.2' fill='#000000' stroke='#000' stroke-width='2.6'/>
<rect x='725.1' y='610.3' width='22.1' height='133.0' fill='#a2a1a7' stroke='#000' stroke-width='2.6'/>
<rect x='762.7' y='620.0' width='22.2' height='123.3' fill='#808080' stroke='#000' stroke-width='2.6'/>
<path d='M698.4 743.3V751.3' stroke='#000' stroke-width='2' fill='none'/>
<path d='M736.0 743.3V751.3' stroke='#000' stroke-width='2' fill='none'/>
<path d='M773.5 743.3V751.3' stroke='#000' stroke-width='2' fill='none'/>
<text x='698.4' y='766.5' font-family="'Liberation Sans',sans-serif" font-weight='bold' font-size='14' text-anchor='middle' fill='#000' >NS</text>
<text x='736.0' y='766.5' font-family="'Liberation Sans',sans-serif" font-weight='bold' font-size='14' text-anchor='middle' fill='#000' >NBP</text>
<text x='773.5' y='766.5' font-family="'Liberation Sans',sans-serif" font-weight='bold' font-size='14' text-anchor='middle' fill='#000' >Sham</text>
<text x='0.0' y='0.0' font-family="'Liberation Sans',sans-serif" font-weight='bold' font-size='15' text-anchor='middle' fill='#000' transform='translate(623.9,648.8) rotate(-90)' dominant-baseline='central'>Metabolite intensity</text>
<path d='M698.5 543.5V492.6H774.0V503.6M736.4 543.5V532.5H774.0V607.0M698.5 583.3V572.4H736.4V597.3' stroke='#000' stroke-width='2' fill='none' stroke-linejoin='miter'/>
<path d='M718.75 474.40V483.30M714.90 476.62L722.60 481.08M714.90 481.08L722.60 476.62M730.25 474.40V483.30M726.40 476.62L734.10 481.08M726.40 481.08L734.10 476.62M741.75 474.40V483.30M737.90 476.62L745.60 481.08M737.90 481.08L745.60 476.62M753.25 474.40V483.30M749.40 476.62L757.10 481.08M749.40 481.08L757.10 476.62M737.15 514.30V522.80M733.47 516.42L740.83 520.67M733.47 520.67L740.83 516.42M748.78 514.30V522.80M745.10 516.42L752.46 520.67M745.10 520.67L752.46 516.42M760.42 514.30V522.80M756.74 516.42L764.10 520.67M756.74 520.67L764.10 516.42M772.05 514.30V522.80M768.37 516.42L775.73 520.67M768.37 520.67L775.73 516.42M699.85 553.80V562.10M696.26 555.88L703.44 560.03M696.26 560.03L703.44 555.88M711.52 553.80V562.10M707.92 555.88L715.11 560.03M707.92 560.03L715.11 555.88M723.18 553.80V562.10M719.59 555.88L726.78 560.03M719.59 560.03L726.78 555.88M734.85 553.80V562.10M731.26 555.88L738.44 560.03M731.26 560.03L738.44 555.88' stroke='#000' stroke-width='1.9' fill='none'/>
<text x='736.0' y='447.5' font-family="'Liberation Sans',sans-serif" font-weight='bold' font-size='18.5' text-anchor='middle' fill='#000' >FA(20:1)</text>
<text x='617.0' y='435.4' font-family="'Liberation Sans',sans-serif" font-weight='bold' font-size='26' text-anchor='start' fill='#000' >e</text>
<path d='M871.0 564.2V745.6' stroke='#000' stroke-width='2.1' fill='none'/>
<path d='M863.2 745.6H992.0' stroke='#000' stroke-width='2.1' fill='none'/>
<path d='M863.2 745.6H871.0' stroke='#000' stroke-width='2' fill='none'/>
<text x='861.0' y='750.3' font-family="'Liberation Sans',sans-serif" font-weight='bold' font-size='13.5' text-anchor='end' fill='#000' >0</text>
<path d='M863.2 709.3H871.0' stroke='#000' stroke-width='2' fill='none'/>
<text x='861.0' y='714.0' font-family="'Liberation Sans',sans-serif" font-weight='bold' font-size='13.5' text-anchor='end' fill='#000' >20</text>
<path d='M863.2 673.0H871.0' stroke='#000' stroke-width='2' fill='none'/>
<text x='861.0' y='677.8' font-family="'Liberation Sans',sans-serif" font-weight='bold' font-size='13.5' text-anchor='end' fill='#000' >40</text>
<path d='M863.2 636.8H871.0' stroke='#000' stroke-width='2' fill='none'/>
<text x='861.0' y='641.5' font-family="'Liberation Sans',sans-serif" font-weight='bold' font-size='13.5' text-anchor='end' fill='#000' >60</text>
<path d='M863.2 600.5H871.0' stroke='#000' stroke-width='2' fill='none'/>
<text x='861.0' y='605.2' font-family="'Liberation Sans',sans-serif" font-weight='bold' font-size='13.5' text-anchor='end' fill='#000' >80</text>
<path d='M863.2 564.2H871.0' stroke='#000' stroke-width='2' fill='none'/>
<text x='861.0' y='568.9' font-family="'Liberation Sans',sans-serif" font-weight='bold' font-size='13.5' text-anchor='end' fill='#000' >100</text>
<rect x='884.4' y='586.9' width='21.6' height='158.7' fill='#000000' stroke='#000' stroke-width='2.6'/>
<rect x='920.7' y='600.5' width='20.9' height='145.1' fill='#a2a1a7' stroke='#000' stroke-width='2.6'/>
<rect x='957.2' y='626.9' width='20.6' height='118.7' fill='#808080' stroke='#000' stroke-width='2.6'/>
<path d='M894.9 745.6V753.0' stroke='#000' stroke-width='2' fill='none'/>
<path d='M931.1 745.6V753.0' stroke='#000' stroke-width='2' fill='none'/>
<path d='M967.4 745.6V753.0' stroke='#000' stroke-width='2' fill='none'/>
<text x='894.9' y='767.9' font-family="'Liberation Sans',sans-serif" font-weight='bold' font-size='14' text-anchor='middle' fill='#000' >NS</text>
<text x='931.1' y='767.9' font-family="'Liberation Sans',sans-serif" font-weight='bold' font-size='14' text-anchor='middle' fill='#000' >NBP</text>
<text x='967.4' y='767.9' font-family="'Liberation Sans',sans-serif" font-weight='bold' font-size='14' text-anchor='middle' fill='#000' >Sham</text>
<text x='0.0' y='0.0' font-family="'Liberation Sans',sans-serif" font-weight='bold' font-size='15' text-anchor='middle' fill='#000' transform='translate(822.9,654.0) rotate(-90)' dominant-baseline='central'>Metabolite intensity</text>
<path d='M894.9 535.8V486.9H968.0V497.7M931.1 535.8V525.9H968.0V614.4M894.9 574.0V564.0H931.1V587.9' stroke='#000' stroke-width='2' fill='none' stroke-linejoin='miter'/>
<path d='M914.30 468.80V477.20M910.66 470.90L917.94 475.10M910.66 475.10L917.94 470.90M925.63 468.80V477.20M922.00 470.90L929.27 475.10M922.00 475.10L929.27 470.90M936.97 468.80V477.20M933.33 470.90L940.60 475.10M933.33 475.10L940.60 470.90M948.30 468.80V477.20M944.66 470.90L951.94 475.10M944.66 475.10L951.94 470.90M932.65 507.00V515.70M928.88 509.18L936.42 513.52M928.88 513.52L936.42 509.18M943.72 507.00V515.70M939.95 509.18L947.48 513.52M939.95 513.52L947.48 509.18M954.78 507.00V515.70M951.02 509.18L958.55 513.52M951.02 513.52L958.55 509.18M965.85 507.00V515.70M962.08 509.18L969.62 513.52M962.08 513.52L969.62 509.18M896.40 545.60V554.40M892.59 547.80L900.21 552.20M892.59 552.20L900.21 547.80M907.57 545.60V554.40M903.76 547.80L911.38 552.20M903.76 552.20L911.38 547.80M918.73 545.60V554.40M914.92 547.80L922.54 552.20M914.92 552.20L922.54 547.80M929.90 545.60V554.40M926.09 547.80L933.71 552.20M926.09 552.20L933.71 547.80' stroke='#000' stroke-width='1.9' fill='none'/>
<text x='931.2' y='442.4' font-family="'Liberation Sans',sans-serif" font-weight='bold' font-size='17.7' text-anchor='middle' fill='#000' >FA(20:2)</text>
<text x='820.0' y='435.3' font-family="'Liberation Sans',sans-serif" font-weight='bold' font-size='26' text-anchor='start' fill='#000' >f</text>
<path d='M1091.3 545.8V742.6' stroke='#000' stroke-width='2.1' fill='none'/>
<path d='M1082.7 742.6H1222.9' stroke='#000' stroke-width='2.1' fill='none'/>
<path d='M1082.7 742.6H1091.3' stroke='#000' stroke-width='2' fill='none'/>
<text x='1079.5' y='747.7' font-family="'Liberation Sans',sans-serif" font-weight='bold' font-size='14.5' text-anchor='end' fill='#000' >0</text>
<path d='M1082.7 677.0H1091.3' stroke='#000' stroke-width='2' fill='none'/>
<text x='1079.5' y='682.1' font-family="'Liberation Sans',sans-serif" font-weight='bold' font-size='14.5' text-anchor='end' fill='#000' >500</text>
<path d='M1082.7 611.4H1091.3' stroke='#000' stroke-width='2' fill='none'/>
<text x='1079.5' y='616.5' font-family="'Liberation Sans',sans-serif" font-weight='bold' font-size='14.5' text-anchor='end' fill='#000' >1000</text>
<path d='M1082.7 545.8H1091.3' stroke='#000' stroke-width='2' fill='none'/>
<text x='1079.5' y='550.9' font-family="'Liberation Sans',sans-serif" font-weight='bold' font-size='14.5' text-anchor='end' fill='#000' >1500</text>
<rect x='1105.4' y='601.4' width='23.4' height='141.2' fill='#000000' stroke='#000' stroke-width='2.6'/>
<rect x='1145.2' y='619.6' width='22.9' height='123.0' fill='#a2a1a7' stroke='#000' stroke-width='2.6'/>
<rect x='1185.0' y='638.7' width='22.3' height='103.9' fill='#808080' stroke='#000' stroke-width='2.6'/>
<path d='M1117.1 742.6V750.3' stroke='#000' stroke-width='2' fill='none'/>
<path d='M1156.7 742.6V750.3' stroke='#000' stroke-width='2' fill='none'/>
<path d='M1196.0 742.6V750.3' stroke='#000' stroke-width='2' fill='none'/>
<text x='1117.1' y='766.0' font-family="'Liberation Sans',sans-serif" font-weight='bold' font-size='14.5' text-anchor='middle' fill='#000' >NS</text>
<text x='1156.7' y='766.0' font-family="'Liberation Sans',sans-serif" font-weight='bold' font-size='14.5' text-anchor='middle' fill='#000' >NBP</text>
<text x='1196.0' y='766.0' font-family="'Liberation Sans',sans-serif" font-weight='bold' font-size='14.5' text-anchor='middle' fill='#000' >Sham</text>
<text x='0.0' y='0.0' font-family="'Liberation Sans',sans-serif" font-weight='bold' font-size='15' text-anchor='middle' fill='#000' transform='translate(1029.5,650.0) rotate(-90)' dominant-baseline='central'>Metabolite intensity</text>
<path d='M1116.6 546.4V493.7H1196.0V505.2M1156.7 546.4V535.4H1196.0V625.9M1116.6 588.4V577.0H1156.7V605.7' stroke='#000' stroke-width='2' fill='none' stroke-linejoin='miter'/>
<path d='M1137.70 474.60V483.20M1133.98 476.75L1141.42 481.05M1133.98 481.05L1141.42 476.75M1150.13 474.60V483.20M1146.41 476.75L1153.86 481.05M1146.41 481.05L1153.86 476.75M1162.57 474.60V483.20M1158.84 476.75L1166.29 481.05M1158.84 481.05L1166.29 476.75M1175.00 474.60V483.20M1171.28 476.75L1178.72 481.05M1171.28 481.05L1178.72 476.75M1158.00 515.70V524.70M1154.10 517.95L1161.90 522.45M1154.10 522.45L1161.90 517.95M1170.30 515.70V524.70M1166.40 517.95L1174.20 522.45M1166.40 522.45L1174.20 517.95M1182.60 515.70V524.70M1178.70 517.95L1186.50 522.45M1178.70 522.45L1186.50 517.95M1194.90 515.70V524.70M1191.00 517.95L1198.80 522.45M1191.00 522.45L1198.80 517.95M1118.15 557.50V566.00M1114.47 559.62L1121.83 563.88M1114.47 563.88L1121.83 559.62M1130.55 557.50V566.00M1126.87 559.62L1134.23 563.88M1126.87 563.88L1134.23 559.62M1142.95 557.50V566.00M1139.27 559.62L1146.63 563.88M1139.27 563.88L1146.63 559.62M1155.35 557.50V566.00M1151.67 559.62L1159.03 563.88M1151.67 563.88L1159.03 559.62' stroke='#000' stroke-width='1.9' fill='none'/>
<text x='1156.2' y='445.3' font-family="'Liberation Sans',sans-serif" font-weight='bold' font-size='18.7' text-anchor='middle' fill='#000' >FA(22:6)</text>
<text x='1028.0' y='434.5' font-family="'Liberation Sans',sans-serif" font-weight='bold' font-size='25' text-anchor='start' fill='#000' >g</text>
<path d='M452.5 860.3V1068.7' stroke='#000' stroke-width='2.1' fill='none'/>
<path d='M444.7 1068.7H603.8' stroke='#000' stroke-width='2.1' fill='none'/>
<path d='M444.7 1068.7H452.5' stroke='#000' stroke-width='2' fill='none'/>
<text x='442.3' y='1073.4' font-family="'Liberation Sans',sans-serif" font-weight='bold' font-size='13.5' text-anchor='end' fill='#000' >0.00</text>
<path d='M444.7 999.2H452.5' stroke='#000' stroke-width='2' fill='none'/>
<text x='442.3' y='1004.0' font-family="'Liberation Sans',sans-serif" font-weight='bold' font-size='13.5' text-anchor='end' fill='#000' >1.00</text>
<path d='M444.7 929.8H452.5' stroke='#000' stroke-width='2' fill='none'/>
<text x='442.3' y='934.5' font-family="'Liberation Sans',sans-serif" font-weight='bold' font-size='13.5' text-anchor='end' fill='#000' >2.00</text>
<path d='M444.7 860.3H452.5' stroke='#000' stroke-width='2' fill='none'/>
<text x='442.3' y='865.0' font-family="'Liberation Sans',sans-serif" font-weight='bold' font-size='13.5' text-anchor='end' fill='#000' >3.00</text>
<rect x='469.1' y='897.2' width='26.7' height='171.5' fill='#000000' stroke='#000' stroke-width='2.6'/>
<rect x='514.7' y='931.9' width='25.6' height='136.8' fill='#a2a1a7' stroke='#000' stroke-width='2.6'/>
<rect x='559.8' y='1000.7' width='26.4' height='68.0' fill='#808080' stroke='#000' stroke-width='2.6'/>
<path d='M482.4 896.0V884.7M474.9 884.7H489.6' stroke='#000' stroke-width='1.4' fill='none'/>
<path d='M527.5 931.0V926.9M520.2 926.9H534.4' stroke='#000' stroke-width='1.4' fill='none'/>
<path d='M482.4 1068.7V1075.8' stroke='#000' stroke-width='2' fill='none'/>
<path d='M527.7 1068.7V1075.8' stroke='#000' stroke-width='2' fill='none'/>
<path d='M572.8 1068.7V1075.8' stroke='#000' stroke-width='2' fill='none'/>
<text x='482.4' y='1090.1' font-family="'Liberation Sans',sans-serif" font-weight='bold' font-size='13.5' text-anchor='middle' fill='#000' >DMSO</text>
<text x='527.7' y='1090.1' font-family="'Liberation Sans',sans-serif" font-weight='bold' font-size='13.5' text-anchor='middle' fill='#000' >NBP</text>
<text x='572.8' y='1090.1' font-family="'Liberation Sans',sans-serif" font-weight='bold' font-size='13.5' text-anchor='middle' fill='#000' >Normal</text>
<text x='0.0' y='0.0' font-family="'Liberation Sans',sans-serif" font-weight='bold' font-size='14' text-anchor='middle' fill='#000' transform='translate(0.0,0.0) rotate(-90)' dominant-baseline='central'></text>
<path d='M482.4 854.1V827.0H572.8V837.4M482.4 874.5V864.3H524.2V916.3M530.8 916.3V864.3H572.8V988.7' stroke='#000' stroke-width='2' fill='none' stroke-linejoin='miter'/>
<path d='M511.30 809.70V818.50M507.49 811.90L515.11 816.30M507.49 816.30L515.11 811.90M521.97 809.70V818.50M518.16 811.90L525.78 816.30M518.16 816.30L525.78 811.90M532.63 809.70V818.50M528.82 811.90L536.44 816.30M528.82 816.30L536.44 811.90M543.30 809.70V818.50M539.49 811.90L547.11 816.30M539.49 816.30L547.11 811.90M503.15 847.00V855.20M499.60 849.05L506.70 853.15M499.60 853.15L506.70 849.05M540.60 847.00V855.20M537.05 849.05L544.15 853.15M537.05 853.15L544.15 849.05M551.75 847.00V855.20M548.20 849.05L555.30 853.15M548.20 853.15L555.30 849.05M562.90 847.00V855.20M559.35 849.05L566.45 853.15M559.35 853.15L566.45 849.05' stroke='#000' stroke-width='1.9' fill='none'/>
<text x='362.0' y='830.7' font-family="'Liberation Sans',sans-serif" font-weight='bold' font-size='24' text-anchor='start' fill='#000' >i</text>
<path d='M1042.7 836.9V1069.8' stroke='#000' stroke-width='2.1' fill='none'/>
<path d='M1034.6 1069.8H1201.9' stroke='#000' stroke-width='2.1' fill='none'/>
<path d='M1034.6 1069.8H1042.7' stroke='#000' stroke-width='2' fill='none'/>
<text x='1031.8' y='1074.7' font-family="'Liberation Sans',sans-serif" font-weight='bold' font-size='14' text-anchor='end' fill='#000' >0</text>
<path d='M1034.6 992.2H1042.7' stroke='#000' stroke-width='2' fill='none'/>
<text x='1031.8' y='997.1' font-family="'Liberation Sans',sans-serif" font-weight='bold' font-size='14' text-anchor='end' fill='#000' >20</text>
<path d='M1034.6 914.6H1042.7' stroke='#000' stroke-width='2' fill='none'/>
<text x='1031.8' y='919.5' font-family="'Liberation Sans',sans-serif" font-weight='bold' font-size='14' text-anchor='end' fill='#000' >40</text>
<path d='M1034.6 837.0H1042.7' stroke='#000' stroke-width='2' fill='none'/>
<text x='1031.8' y='841.9' font-family="'Liberation Sans',sans-serif" font-weight='bold' font-size='14' text-anchor='end' fill='#000' >60</text>
<rect x='1059.6' y='892.8' width='28.8' height='177.0' fill='#000000' stroke='#000' stroke-width='2.6'/>
<rect x='1107.5' y='961.0' width='28.4' height='108.8' fill='#a2a1a7' stroke='#000' stroke-width='2.6'/>
<rect x='1155.4' y='944.2' width='28.0' height='125.6' fill='#808080' stroke='#000' stroke-width='2.6'/>
<path d='M1073.9 892.0V883.2M1066.2 883.2H1081.7' stroke='#000' stroke-width='1.4' fill='none'/>
<path d='M1121.6 960.0V952.5M1113.8 952.5H1129.5' stroke='#000' stroke-width='1.4' fill='none'/>
<path d='M1169.4 943.0V936.4M1161.7 936.4H1177.0' stroke='#000' stroke-width='1.4' fill='none'/>
<path d='M1073.6 1069.8V1077.9' stroke='#000' stroke-width='2' fill='none'/>
<path d='M1121.3 1069.8V1077.9' stroke='#000' stroke-width='2' fill='none'/>
<path d='M1169.2 1069.8V1077.9' stroke='#000' stroke-width='2' fill='none'/>
<text x='1073.6' y='1093.2' font-family="'Liberation Sans',sans-serif" font-weight='bold' font-size='14.5' text-anchor='middle' fill='#000' >DMSO</text>
<text x='1121.3' y='1093.2' font-family="'Liberation Sans',sans-serif" font-weight='bold' font-size='14.5' text-anchor='middle' fill='#000' >NBP</text>
<text x='1169.2' y='1093.2' font-family="'Liberation Sans',sans-serif" font-weight='bold' font-size='14.5' text-anchor='middle' fill='#000' >Normal</text>
<text x='0.0' y='0.0' font-family="'Liberation Sans',sans-serif" font-weight='bold' font-size='15.9' text-anchor='middle' fill='#000' transform='translate(1000.9,952.7) rotate(-90)' dominant-baseline='central'>Lipid ROS (%)</text>
<path d='M1073.6 849.1V820.2H1169.4V925.2M1073.6 871.6V860.4H1121.3V940.9' stroke='#000' stroke-width='2' fill='none' stroke-linejoin='miter'/>
<path d='M1115.20 801.80V810.00M1111.65 803.85L1118.75 807.95M1111.65 807.95L1118.75 803.85M1128.00 801.80V810.00M1124.45 803.85L1131.55 807.95M1124.45 807.95L1131.55 803.85M1091.60 842.00V850.60M1087.88 844.15L1095.32 848.45M1087.88 848.45L1095.32 844.15M1103.30 842.00V850.60M1099.58 844.15L1107.02 848.45M1099.58 848.45L1107.02 844.15' stroke='#000' stroke-width='1.9' fill='none'/>
<text x='974.5' y='833.2' font-family="'Liberation Sans',sans-serif" font-weight='bold' font-size='24' text-anchor='start' fill='#000' >k</text>
<text x='0.0' y='0.0' font-family="'Liberation Sans',sans-serif" font-weight='bold' font-size='14.5' text-anchor='middle' fill='#000' transform='translate(386.7,962.0) rotate(-90)' dominant-baseline='central'>Related ROS</text>
<text x='0.0' y='0.0' font-family="'Liberation Sans',sans-serif" font-weight='bold' font-size='14.5' text-anchor='middle' fill='#000' transform='translate(403.7,964.5) rotate(-90)' dominant-baseline='central'>(adjusted with normal group)</text>
<path d='M450.8 1101.3H545.0' stroke='#000' stroke-width='2'/>
<text x='493.3' y='1117.6' font-family="'Liberation Serif',serif" font-weight='bold' font-size='14' text-anchor='middle' fill='#000' >OGD/R</text>
<path d='M1046.5 1102.3H1140.7' stroke='#000' stroke-width='2'/>
<text x='1089.1' y='1117.6' font-family="'Liberation Serif',serif" font-weight='bold' font-size='14' text-anchor='middle' fill='#000' >OGD/R</text>
<text x='11.5' y='20.8' font-family="'Liberation Sans',sans-serif" font-weight='bold' font-size='26' text-anchor='start' fill='#000' >a</text>
<rect x='135.5' y='47.5' width='425' height='739' fill='#000'/>
<text x='203.9' y='46.2' font-family="'Liberation Sans',sans-serif" font-weight='bold' font-size='16.5' text-anchor='middle' fill='#000' >NS</text>
<text x='338.4' y='46.2' font-family="'Liberation Sans',sans-serif" font-weight='bold' font-size='16.5' text-anchor='middle' fill='#000' >NBP</text>
<text x='473.0' y='46.2' font-family="'Liberation Sans',sans-serif" font-weight='bold' font-size='16.5' text-anchor='middle' fill='#000' >Sham</text>
<text x='84.0' y='94.4' font-family="'Liberation Sans',sans-serif" font-weight='bold' font-size='17' text-anchor='middle' fill='#000' >FA(22:6)</text>
<text x='84.0' y='114.5' font-family="'Liberation Sans',sans-serif" font-weight='bold' font-size='17' text-anchor='middle' fill='#000' >M-H</text>
<text x='84.0' y='134.6' font-family="'Liberation Sans',sans-serif" font-weight='bold' font-size='17' text-anchor='middle' fill='#000' >mz 327.2339</text>
<text x='84.0' y='213.4' font-family="'Liberation Sans',sans-serif" font-weight='bold' font-size='17' text-anchor='middle' fill='#000' >FA(18:2)</text>
<text x='84.0' y='233.5' font-family="'Liberation Sans',sans-serif" font-weight='bold' font-size='17' text-anchor='middle' fill='#000' >M-H</text>
<text x='84.0' y='253.6' font-family="'Liberation Sans',sans-serif" font-weight='bold' font-size='17' text-anchor='middle' fill='#000' >mz 279.2319</text>
<text x='84.0' y='335.6' font-family="'Liberation Sans',sans-serif" font-weight='bold' font-size='17' text-anchor='middle' fill='#000' >FA(20:2)</text>
<text x='84.0' y='355.7' font-family="'Liberation Sans',sans-serif" font-weight='bold' font-size='17' text-anchor='middle' fill='#000' >M+Na-2H</text>
<text x='84.0' y='375.8' font-family="'Liberation Sans',sans-serif" font-weight='bold' font-size='17' text-anchor='middle' fill='#000' >mz 329.2437</text>
<text x='84.0' y='455.0' font-family="'Liberation Sans',sans-serif" font-weight='bold' font-size='17' text-anchor='middle' fill='#000' >FA(18:0)</text>
<text x='84.0' y='475.1' font-family="'Liberation Sans',sans-serif" font-weight='bold' font-size='17' text-anchor='middle' fill='#000' >M+Na-2H</text>
<text x='84.0' y='495.2' font-family="'Liberation Sans',sans-serif" font-weight='bold' font-size='17' text-anchor='middle' fill='#000' >mz 305.2457</text>
<text x='84.0' y='583.2' font-family="'Liberation Sans',sans-serif" font-weight='bold' font-size='17' text-anchor='middle' fill='#000' >FA(18:1)</text>
<text x='84.0' y='603.3' font-family="'Liberation Sans',sans-serif" font-weight='bold' font-size='17' text-anchor='middle' fill='#000' >M-H</text>
<text x='84.0' y='623.4' font-family="'Liberation Sans',sans-serif" font-weight='bold' font-size='17' text-anchor='middle' fill='#000' >mz 281.24981</text>
<text x='84.0' y='704.6' font-family="'Liberation Sans',sans-serif" font-weight='bold' font-size='17' text-anchor='middle' fill='#000' >FA(20:1)</text>
<text x='84.0' y='724.7' font-family="'Liberation Sans',sans-serif" font-weight='bold' font-size='17' text-anchor='middle' fill='#000' >M+Na-2H</text>
<text x='84.0' y='744.8' font-family="'Liberation Sans',sans-serif" font-weight='bold' font-size='17' text-anchor='middle' fill='#000' >mz 331.2651</text>
<g clip-path='url(#br00)'><g filter='url(#jet)'><rect x='140.2' y='57.0' width='131.5' height='101.8' fill='rgb(61,61,61)'/><ellipse cx='191.6' cy='122.3' rx='16.7' ry='26.9' fill='rgb(26,26,26)'/><path d='M158.15 139.33C157.55 135.59 154.17 124.36 154.56 116.88C154.96 109.40 157.55 100.42 160.54 94.43C163.53 88.44 167.91 84.40 172.49 80.96C177.07 77.52 185.44 74.97 188.02 73.78' fill='none' stroke='rgb(26,26,26)' stroke-width='3.8' stroke-linecap='round'/><rect x='201.2' y='63.0' width='64.5' height='89.8' fill='rgb(120,120,120)'/><ellipse cx='208.3' cy='72.0' rx='8.4' ry='9.0' fill='rgb(97,97,97)'/><ellipse cx='241.8' cy='81.0' rx='23.9' ry='18.0' fill='rgb(168,168,168)'/><rect x='209.5' y='100.7' width='8.4' height='28.7' fill='rgb(173,173,173)'/><rect x='220.3' y='101.6' width='27.5' height='37.7' fill='rgb(224,224,224)'/><ellipse cx='263.3' cy='116.9' rx='4.8' ry='26.9' fill='rgb(102,102,102)'/></g></g>
<g clip-path='url(#br01)'><g filter='url(#jet)'><rect x='273.0' y='57.0' width='127.9' height='98.8' fill='rgb(66,66,66)'/><ellipse cx='316.1' cy='110.7' rx='17.4' ry='26.0' fill='rgb(36,36,36)'/><path d='M317.25 130.70C315.89 128.10 310.87 120.29 309.13 115.08C307.40 109.87 306.62 104.23 306.82 99.46C307.01 94.68 308.36 90.05 310.29 86.44C312.22 82.82 315.51 79.49 318.41 77.76C321.30 76.02 324.97 75.73 327.68 76.02C330.38 76.31 333.09 78.05 334.63 79.49C336.18 80.94 336.18 84.70 336.95 84.70C337.72 84.70 337.72 80.94 339.27 79.49C340.81 78.05 343.52 76.31 346.22 76.02C348.93 75.73 352.60 76.02 355.49 77.76C358.39 79.49 361.68 82.82 363.61 86.44C365.54 90.05 366.89 94.68 367.08 99.46C367.28 104.23 366.50 109.87 364.77 115.08C363.03 120.29 358.01 128.10 356.65 130.70' fill='none' stroke='rgb(15,15,15)' stroke-width='3.7' stroke-linecap='round'/><ellipse cx='345.1' cy='106.4' rx='11.6' ry='17.4' fill='rgb(122,122,122)'/><ellipse cx='383.3' cy='106.4' rx='13.9' ry='34.7' fill='rgb(140,140,140)'/><ellipse cx='381.0' cy='80.4' rx='11.6' ry='10.4' fill='rgb(178,178,178)'/></g></g>
<g clip-path='url(#br02)'><g filter='url(#jet)'><rect x='407.6' y='57.0' width='124.4' height='99.6' fill='rgb(74,74,74)'/><ellipse cx='469.8' cy='106.8' rx='24.7' ry='24.5' fill='rgb(117,117,117)'/><path d='M450.69 131.33C449.38 128.70 444.51 120.82 442.82 115.56C441.14 110.30 440.39 104.61 440.58 99.79C440.76 94.97 442.07 90.30 443.95 86.65C445.82 83.00 449.01 79.64 451.82 77.89C454.63 76.14 458.19 75.85 460.81 76.14C463.43 76.43 466.05 78.18 467.55 79.64C469.05 81.10 469.05 84.90 469.80 84.90C470.55 84.90 470.55 81.10 472.05 79.64C473.55 78.18 476.17 76.43 478.79 76.14C481.41 75.85 484.97 76.14 487.78 77.89C490.59 79.64 493.78 83.00 495.65 86.65C497.53 90.30 498.84 94.97 499.02 99.79C499.21 104.61 498.46 110.30 496.78 115.56C495.09 120.82 490.22 128.70 488.91 131.33' fill='none' stroke='rgb(20,20,20)' stroke-width='3.6' stroke-linecap='round'/></g></g>
<g clip-path='url(#br10)'><g filter='url(#jet)'><rect x='140.2' y='176.5' width='131.5' height='100.0' fill='rgb(59,59,59)'/><ellipse cx='191.6' cy='240.6' rx='16.7' ry='26.4' fill='rgb(26,26,26)'/><path d='M158.15 257.30C157.55 253.63 154.17 242.63 154.56 235.30C154.96 227.97 157.55 219.17 160.54 213.30C163.53 207.43 167.91 203.47 172.49 200.10C177.07 196.73 185.44 194.23 188.02 193.06' fill='none' stroke='rgb(26,26,26)' stroke-width='3.8' stroke-linecap='round'/><rect x='200.0' y='182.5' width='65.7' height='88.0' fill='rgb(128,128,128)'/><ellipse cx='241.8' cy='201.9' rx='19.1' ry='15.8' fill='rgb(153,153,153)'/><rect x='229.8' y='213.3' width='16.7' height='44.0' fill='rgb(163,163,163)'/></g></g>
<g clip-path='url(#br11)'><g filter='url(#jet)'><rect x='273.0' y='176.5' width='127.9' height='96.5' fill='rgb(61,61,61)'/><ellipse cx='313.8' cy='229.0' rx='20.9' ry='29.6' fill='rgb(31,31,31)'/><rect x='279.0' y='182.5' width='115.9' height='8.5' fill='rgb(51,51,51)'/><path d='M317.25 248.41C315.89 245.88 310.87 238.27 309.13 233.20C307.40 228.13 306.62 222.64 306.82 217.99C307.01 213.34 308.36 208.84 310.29 205.31C312.22 201.79 315.51 198.56 318.41 196.87C321.30 195.18 324.97 194.89 327.68 195.18C330.38 195.46 333.09 197.15 334.63 198.56C336.18 199.96 336.18 203.62 336.95 203.62C337.72 203.62 337.72 199.96 339.27 198.56C340.81 197.15 343.52 195.46 346.22 195.18C348.93 194.89 352.60 195.18 355.49 196.87C358.39 198.56 361.68 201.79 363.61 205.31C365.54 208.84 366.89 213.34 367.08 217.99C367.28 222.64 366.50 228.13 364.77 233.20C363.03 238.27 358.01 245.88 356.65 248.41' fill='none' stroke='rgb(20,20,20)' stroke-width='3.7' stroke-linecap='round'/><ellipse cx='345.1' cy='224.8' rx='13.9' ry='21.1' fill='rgb(128,128,128)'/><ellipse cx='381.0' cy='224.8' rx='15.1' ry='32.1' fill='rgb(133,133,133)'/></g></g>
<g clip-path='url(#br12)'><g filter='url(#jet)'><rect x='407.6' y='176.5' width='124.4' height='97.1' fill='rgb(76,76,76)'/><path d='M450.69 248.88C449.38 246.32 444.51 238.67 442.82 233.56C441.14 228.45 440.39 222.92 440.58 218.24C440.76 213.56 442.07 209.02 443.95 205.48C445.82 201.93 449.01 198.67 451.82 196.97C454.63 195.26 458.19 194.98 460.81 195.26C463.43 195.55 466.05 197.25 467.55 198.67C469.05 200.09 469.05 203.78 469.80 203.78C470.55 203.78 470.55 200.09 472.05 198.67C473.55 197.25 476.17 195.55 478.79 195.26C481.41 194.98 484.97 195.26 487.78 196.97C490.59 198.67 493.78 201.93 495.65 205.48C497.53 209.02 498.84 213.56 499.02 218.24C499.21 222.92 498.46 228.45 496.78 233.56C495.09 238.67 490.22 246.32 488.91 248.88' fill='none' stroke='rgb(26,26,26)' stroke-width='3.6' stroke-linecap='round'/><ellipse cx='469.8' cy='225.1' rx='56.2' ry='42.5' fill='none' stroke='rgb(148,148,148)' stroke-width='2.8'/><ellipse cx='469.8' cy='225.1' rx='20.2' ry='17.0' fill='rgb(87,87,87)'/></g></g>
<g clip-path='url(#br20)'><g filter='url(#jet)'><rect x='140.2' y='298.4' width='131.5' height='101.7' fill='rgb(56,56,56)'/><ellipse cx='191.6' cy='363.6' rx='16.7' ry='26.9' fill='rgb(26,26,26)'/><path d='M158.15 380.64C157.55 376.91 154.17 365.69 154.56 358.22C154.96 350.74 157.55 341.77 160.54 335.79C163.53 329.81 167.91 325.78 172.49 322.34C177.07 318.90 185.44 316.36 188.02 315.16' fill='none' stroke='rgb(26,26,26)' stroke-width='3.8' stroke-linecap='round'/><rect x='200.0' y='304.4' width='65.7' height='89.7' fill='rgb(115,115,115)'/><ellipse cx='235.8' cy='326.8' rx='21.5' ry='14.4' fill='rgb(133,133,133)'/><rect x='232.2' y='353.7' width='13.1' height='29.6' fill='rgb(204,204,204)'/></g></g>
<g clip-path='url(#br21)'><g filter='url(#jet)'><rect x='273.0' y='298.4' width='127.9' height='97.1' fill='rgb(66,66,66)'/><ellipse cx='316.1' cy='351.2' rx='17.4' ry='25.5' fill='rgb(36,36,36)'/><path d='M317.25 370.78C315.89 368.22 310.87 360.57 309.13 355.46C307.40 350.35 306.62 344.82 306.82 340.14C307.01 335.46 308.36 330.92 310.29 327.38C312.22 323.83 315.51 320.57 318.41 318.87C321.30 317.16 324.97 316.88 327.68 317.16C330.38 317.45 333.09 319.15 334.63 320.57C336.18 321.99 336.18 325.67 336.95 325.67C337.72 325.67 337.72 321.99 339.27 320.57C340.81 319.15 343.52 317.45 346.22 317.16C348.93 316.88 352.60 317.16 355.49 318.87C358.39 320.57 361.68 323.83 363.61 327.38C365.54 330.92 366.89 335.46 367.08 340.14C367.28 344.82 366.50 350.35 364.77 355.46C363.03 360.57 358.01 368.22 356.65 370.78' fill='none' stroke='rgb(20,20,20)' stroke-width='3.7' stroke-linecap='round'/><ellipse cx='345.1' cy='346.9' rx='13.9' ry='18.7' fill='rgb(117,117,117)'/><ellipse cx='383.3' cy='346.9' rx='13.9' ry='32.3' fill='rgb(153,153,153)'/></g></g>
<g clip-path='url(#br22)'><g filter='url(#jet)'><rect x='407.6' y='298.4' width='124.4' height='98.9' fill='rgb(92,92,92)'/><path d='M450.69 372.18C449.38 369.57 444.51 361.75 442.82 356.54C441.14 351.33 440.39 345.68 440.58 340.90C440.76 336.12 442.07 331.48 443.95 327.86C445.82 324.24 449.01 320.91 451.82 319.17C454.63 317.44 458.19 317.15 460.81 317.44C463.43 317.72 466.05 319.46 467.55 320.91C469.05 322.36 469.05 326.12 469.80 326.12C470.55 326.12 470.55 322.36 472.05 320.91C473.55 319.46 476.17 317.72 478.79 317.44C481.41 317.15 484.97 317.44 487.78 319.17C490.59 320.91 493.78 324.24 495.65 327.86C497.53 331.48 498.84 336.12 499.02 340.90C499.21 345.68 498.46 351.33 496.78 356.54C495.09 361.75 490.22 369.57 488.91 372.18' fill='none' stroke='rgb(26,26,26)' stroke-width='3.6' stroke-linecap='round'/><ellipse cx='469.8' cy='347.8' rx='20.2' ry='19.1' fill='rgb(107,107,107)'/></g></g>
<g clip-path='url(#br30)'><g filter='url(#jet)'><rect x='140.2' y='419.4' width='131.5' height='101.7' fill='rgb(112,112,112)'/><ellipse cx='200.0' cy='474.7' rx='23.9' ry='22.4' fill='rgb(76,76,76)'/><path d='M158.15 501.64C157.55 497.91 154.17 486.69 154.56 479.22C154.96 471.74 157.55 462.77 160.54 456.79C163.53 450.81 167.91 446.78 172.49 443.34C177.07 439.90 185.44 437.36 188.02 436.16' fill='none' stroke='rgb(71,71,71)' stroke-width='3.8' stroke-linecap='round'/><ellipse cx='153.4' cy='479.2' rx='9.6' ry='26.9' fill='rgb(148,148,148)'/><ellipse cx='246.6' cy='481.0' rx='14.3' ry='26.9' fill='rgb(153,153,153)'/></g></g>
<g clip-path='url(#br31)'><g filter='url(#jet)'><rect x='273.0' y='419.4' width='127.9' height='96.3' fill='rgb(97,97,97)'/><ellipse cx='336.9' cy='471.8' rx='34.8' ry='27.0' fill='rgb(56,56,56)'/><path d='M317.25 491.15C315.89 488.62 310.87 481.04 309.13 475.98C307.40 470.92 306.62 465.44 306.82 460.81C307.01 456.17 308.36 451.67 310.29 448.16C312.22 444.65 315.51 441.42 318.41 439.73C321.30 438.04 324.97 437.76 327.68 438.04C330.38 438.33 333.09 440.01 334.63 441.42C336.18 442.82 336.18 446.47 336.95 446.47C337.72 446.47 337.72 442.82 339.27 441.42C340.81 440.01 343.52 438.33 346.22 438.04C348.93 437.76 352.60 438.04 355.49 439.73C358.39 441.42 361.68 444.65 363.61 448.16C365.54 451.67 366.89 456.17 367.08 460.81C367.28 465.44 366.50 470.92 364.77 475.98C363.03 481.04 358.01 488.62 356.65 491.15' fill='none' stroke='rgb(31,31,31)' stroke-width='3.7' stroke-linecap='round'/></g></g>
<g clip-path='url(#br32)'><g filter='url(#jet)'><rect x='407.6' y='419.4' width='124.4' height='98.2' fill='rgb(107,107,107)'/><ellipse cx='427.1' cy='477.1' rx='13.5' ry='25.9' fill='rgb(128,128,128)'/><path d='M450.69 492.64C449.38 490.05 444.51 482.29 442.82 477.12C441.14 471.95 440.39 466.34 440.58 461.60C440.76 456.86 442.07 452.27 443.95 448.67C445.82 445.08 449.01 441.78 451.82 440.05C454.63 438.33 458.19 438.04 460.81 438.33C463.43 438.62 466.05 440.34 467.55 441.78C469.05 443.21 469.05 446.95 469.80 446.95C470.55 446.95 470.55 443.21 472.05 441.78C473.55 440.34 476.17 438.62 478.79 438.33C481.41 438.04 484.97 438.33 487.78 440.05C490.59 441.78 493.78 445.08 495.65 448.67C497.53 452.27 498.84 456.86 499.02 461.60C499.21 466.34 498.46 471.95 496.78 477.12C495.09 482.29 490.22 490.05 488.91 492.64' fill='none' stroke='rgb(26,26,26)' stroke-width='3.6' stroke-linecap='round'/><ellipse cx='469.8' cy='468.5' rx='20.2' ry='19.0' fill='rgb(107,107,107)'/></g></g>
<g clip-path='url(#br40)'><g filter='url(#jet)'><rect x='140.2' y='547.3' width='131.5' height='100.7' fill='rgb(115,115,115)'/><ellipse cx='241.8' cy='571.0' rx='23.9' ry='13.3' fill='rgb(140,140,140)'/><path d='M158.15 628.69C157.55 625.00 154.17 613.91 154.56 606.52C154.96 599.13 157.55 590.26 160.54 584.34C163.53 578.43 167.91 574.44 172.49 571.04C177.07 567.64 185.44 565.13 188.02 563.94' fill='none' stroke='rgb(76,76,76)' stroke-width='3.8' stroke-linecap='round'/><ellipse cx='200.0' cy='602.1' rx='17.9' ry='17.7' fill='rgb(97,97,97)'/><ellipse cx='244.2' cy='608.3' rx='13.1' ry='22.2' fill='rgb(184,184,184)'/></g></g>
<g clip-path='url(#br41)'><g filter='url(#jet)'><rect x='273.0' y='547.3' width='127.9' height='96.4' fill='rgb(107,107,107)'/><path d='M317.25 619.13C315.89 616.60 310.87 609.00 309.13 603.94C307.40 598.88 306.62 593.39 306.82 588.75C307.01 584.11 308.36 579.60 310.29 576.09C312.22 572.57 315.51 569.34 318.41 567.65C321.30 565.96 324.97 565.68 327.68 565.96C330.38 566.24 333.09 567.93 334.63 569.34C336.18 570.74 336.18 574.40 336.95 574.40C337.72 574.40 337.72 570.74 339.27 569.34C340.81 567.93 343.52 566.24 346.22 565.96C348.93 565.68 352.60 565.96 355.49 567.65C358.39 569.34 361.68 572.57 363.61 576.09C365.54 579.60 366.89 584.11 367.08 588.75C367.28 593.39 366.50 598.88 364.77 603.94C363.03 609.00 358.01 616.60 356.65 619.13' fill='none' stroke='rgb(20,20,20)' stroke-width='3.7' stroke-linecap='round'/><ellipse cx='336.9' cy='599.7' rx='20.9' ry='21.1' fill='rgb(115,115,115)'/><ellipse cx='336.9' cy='629.3' rx='11.6' ry='8.4' fill='rgb(128,128,128)'/></g></g>
<g clip-path='url(#br42)'><g filter='url(#jet)'><rect x='407.6' y='547.3' width='124.4' height='98.3' fill='rgb(102,102,102)'/><ellipse cx='469.8' cy='596.4' rx='22.5' ry='21.6' fill='rgb(128,128,128)'/><path d='M450.69 620.61C449.38 618.02 444.51 610.26 442.82 605.08C441.14 599.90 440.39 594.29 440.58 589.55C440.76 584.80 442.07 580.20 443.95 576.60C445.82 573.01 449.01 569.70 451.82 567.97C454.63 566.25 458.19 565.96 460.81 566.25C463.43 566.53 466.05 568.26 467.55 569.70C469.05 571.14 469.05 574.88 469.80 574.88C470.55 574.88 470.55 571.14 472.05 569.70C473.55 568.26 476.17 566.53 478.79 566.25C481.41 565.96 484.97 566.25 487.78 567.97C490.59 569.70 493.78 573.01 495.65 576.60C497.53 580.20 498.84 584.80 499.02 589.55C499.21 594.29 498.46 599.90 496.78 605.08C495.09 610.26 490.22 618.02 488.91 620.61' fill='none' stroke='rgb(15,15,15)' stroke-width='3.6' stroke-linecap='round'/><ellipse cx='436.1' cy='592.1' rx='4.5' ry='10.4' fill='rgb(178,178,178)'/></g></g>
<g clip-path='url(#br50)'><g filter='url(#jet)'><rect x='140.2' y='667.6' width='131.5' height='101.0' fill='rgb(107,107,107)'/><path d='M158.15 749.25C157.55 745.54 154.17 734.42 154.56 727.00C154.96 719.58 157.55 710.68 160.54 704.75C163.53 698.82 167.91 694.81 172.49 691.40C177.07 687.99 185.44 685.47 188.02 684.28' fill='none' stroke='rgb(82,82,82)' stroke-width='3.8' stroke-linecap='round'/><ellipse cx='200.0' cy='722.6' rx='17.9' ry='17.8' fill='rgb(102,102,102)'/><ellipse cx='241.8' cy='734.1' rx='13.1' ry='21.4' fill='rgb(184,184,184)'/></g></g>
<g clip-path='url(#br51)'><g filter='url(#jet)'><rect x='273.0' y='667.6' width='127.9' height='97.4' fill='rgb(51,51,51)'/><ellipse cx='336.9' cy='720.6' rx='29.0' ry='25.6' fill='rgb(69,69,69)'/><rect x='279.0' y='673.6' width='115.9' height='12.8' fill='rgb(38,38,38)'/><path d='M317.25 740.21C315.89 737.65 310.87 729.96 309.13 724.84C307.40 719.72 306.62 714.17 306.82 709.47C307.01 704.77 308.36 700.22 310.29 696.66C312.22 693.10 315.51 689.83 318.41 688.12C321.30 686.41 324.97 686.13 327.68 686.41C330.38 686.69 333.09 688.40 334.63 689.83C336.18 691.25 336.18 694.95 336.95 694.95C337.72 694.95 337.72 691.25 339.27 689.83C340.81 688.40 343.52 686.69 346.22 686.41C348.93 686.13 352.60 686.41 355.49 688.12C358.39 689.83 361.68 693.10 363.61 696.66C365.54 700.22 366.89 704.77 367.08 709.47C367.28 714.17 366.50 719.72 364.77 724.84C363.03 729.96 358.01 737.65 356.65 740.21' fill='none' stroke='rgb(31,31,31)' stroke-width='3.7' stroke-linecap='round'/></g></g>
<g clip-path='url(#br52)'><g filter='url(#jet)'><rect x='407.6' y='667.6' width='124.4' height='97.8' fill='rgb(76,76,76)'/><ellipse cx='469.8' cy='720.8' rx='24.7' ry='21.4' fill='rgb(92,92,92)'/><ellipse cx='430.5' cy='720.8' rx='11.2' ry='21.4' fill='rgb(107,107,107)'/><ellipse cx='514.8' cy='716.5' rx='11.2' ry='25.7' fill='rgb(56,56,56)'/><path d='M450.69 740.52C449.38 737.95 444.51 730.23 442.82 725.08C441.14 719.93 440.39 714.36 440.58 709.64C440.76 704.92 442.07 700.34 443.95 696.77C445.82 693.19 449.01 689.90 451.82 688.19C454.63 686.47 458.19 686.18 460.81 686.47C463.43 686.76 466.05 688.47 467.55 689.90C469.05 691.33 469.05 695.05 469.80 695.05C470.55 695.05 470.55 691.33 472.05 689.90C473.55 688.47 476.17 686.76 478.79 686.47C481.41 686.18 484.97 686.47 487.78 688.19C490.59 689.90 493.78 693.19 495.65 696.77C497.53 700.34 498.84 704.92 499.02 709.64C499.21 714.36 498.46 719.93 496.78 725.08C495.09 730.23 490.22 737.95 488.91 740.52' fill='none' stroke='rgb(38,38,38)' stroke-width='3.6' stroke-linecap='round'/></g></g>
<rect x='548.8' y='70.2' width='2.3' height='74.8' fill='url(#cbg)'/>
<path d='M551.2 82.7h2.5M551.2 95.1h2.5M551.2 107.6h2.5M551.2 120.1h2.5M551.2 132.5h2.5' stroke='#888' stroke-width='0.6'/>
<rect x='548.8' y='189.7' width='2.3' height='75.3' fill='url(#cbg)'/>
<path d='M551.2 202.2h2.5M551.2 214.8h2.5M551.2 227.3h2.5M551.2 239.9h2.5M551.2 252.4h2.5' stroke='#888' stroke-width='0.6'/>
<rect x='548.8' y='310.5' width='2.3' height='77.2' fill='url(#cbg)'/>
<path d='M551.2 323.4h2.5M551.2 336.2h2.5M551.2 349.1h2.5M551.2 362.0h2.5M551.2 374.8h2.5' stroke='#888' stroke-width='0.6'/>
<rect x='548.8' y='430.8' width='2.3' height='78.9' fill='url(#cbg)'/>
<path d='M551.2 443.9h2.5M551.2 457.1h2.5M551.2 470.2h2.5M551.2 483.4h2.5M551.2 496.6h2.5' stroke='#888' stroke-width='0.6'/>
<rect x='548.8' y='558.0' width='2.3' height='77.9' fill='url(#cbg)'/>
<path d='M551.2 571.0h2.5M551.2 584.0h2.5M551.2 597.0h2.5M551.2 609.9h2.5M551.2 622.9h2.5' stroke='#888' stroke-width='0.6'/>
<rect x='548.8' y='680.8' width='2.3' height='76.0' fill='url(#cbg)'/>
<path d='M551.2 693.5h2.5M551.2 706.1h2.5M551.2 718.8h2.5M551.2 731.5h2.5M551.2 744.1h2.5' stroke='#888' stroke-width='0.6'/>
<path d='M78.60 956.30C91.30 956.23 104.00 956.29 116.70 956.10C117.77 956.08 118.83 948.61 119.90 944.40C121.53 937.95 123.17 923.10 124.80 923.10C126.43 923.10 128.07 927.64 129.70 929.70C130.93 931.25 132.17 934.10 133.40 934.10C134.60 934.10 135.80 929.70 137.00 929.70C138.63 929.70 140.27 931.28 141.90 932.10C143.53 932.92 145.17 933.63 146.80 934.60C148.83 935.81 150.87 939.00 152.90 939.00C154.93 939.00 156.97 936.62 159.00 935.80C161.47 934.80 163.93 934.82 166.40 933.40C168.03 932.46 169.67 926.52 171.30 924.80C172.93 923.08 174.57 922.98 176.20 921.10C178.63 918.30 181.07 909.11 183.50 900.30C184.73 895.84 185.97 884.25 187.20 883.20C188.00 882.52 188.80 882.69 189.60 882.00C190.83 880.94 192.07 869.72 193.30 863.60C194.53 857.48 195.77 848.21 197.00 845.30C198.03 842.86 199.07 840.40 200.10 840.40C201.10 840.40 202.10 843.45 203.10 846.50C204.33 850.27 205.57 863.16 206.80 871.00C208.00 878.63 209.20 885.74 210.40 893.00C212.03 902.88 213.67 912.93 215.30 922.30C216.93 931.67 218.57 946.20 220.20 949.30C222.23 953.16 224.27 956.07 226.30 956.10C238.40 956.27 250.50 956.23 262.60 956.30Z' fill='#f7912d' fill-opacity='0.5' stroke='none'/><path d='M78.60 956.30C91.30 956.23 104.00 956.29 116.70 956.10C117.77 956.08 118.83 948.61 119.90 944.40C121.53 937.95 123.17 923.10 124.80 923.10C126.43 923.10 128.07 927.64 129.70 929.70C130.93 931.25 132.17 934.10 133.40 934.10C134.60 934.10 135.80 929.70 137.00 929.70C138.63 929.70 140.27 931.28 141.90 932.10C143.53 932.92 145.17 933.63 146.80 934.60C148.83 935.81 150.87 939.00 152.90 939.00C154.93 939.00 156.97 936.62 159.00 935.80C161.47 934.80 163.93 934.82 166.40 933.40C168.03 932.46 169.67 926.52 171.30 924.80C172.93 923.08 174.57 922.98 176.20 921.10C178.63 918.30 181.07 909.11 183.50 900.30C184.73 895.84 185.97 884.25 187.20 883.20C188.00 882.52 188.80 882.69 189.60 882.00C190.83 880.94 192.07 869.72 193.30 863.60C194.53 857.48 195.77 848.21 197.00 845.30C198.03 842.86 199.07 840.40 200.10 840.40C201.10 840.40 202.10 843.45 203.10 846.50C204.33 850.27 205.57 863.16 206.80 871.00C208.00 878.63 209.20 885.74 210.40 893.00C212.03 902.88 213.67 912.93 215.30 922.30C216.93 931.67 218.57 946.20 220.20 949.30C222.23 953.16 224.27 956.07 226.30 956.10C238.40 956.27 250.50 956.23 262.60 956.30' fill='none' stroke='#f7912d' stroke-width='1.3'/>
<path d='M78.60 1022.40C91.83 1022.40 105.07 1022.40 118.30 1022.40C119.33 1022.40 120.37 1015.59 121.40 1013.60C123.10 1010.33 124.80 1006.50 126.50 1006.50C128.20 1006.50 129.90 1008.57 131.60 1009.50C133.63 1010.61 135.67 1012.60 137.70 1012.60C140.40 1012.60 143.10 1011.20 145.80 1011.20C149.20 1011.20 152.60 1011.88 156.00 1012.00C158.73 1012.10 161.47 1012.20 164.20 1012.20C166.23 1012.20 168.27 1010.78 170.30 1009.50C171.67 1008.64 173.03 1007.06 174.40 1005.40C176.10 1003.33 177.80 1001.44 179.50 997.30C181.20 993.16 182.90 979.19 184.60 970.80C186.63 960.76 188.67 951.49 190.70 942.20C192.37 934.59 194.03 926.57 195.70 919.90C196.97 914.83 198.23 907.64 199.50 906.00C200.30 904.96 201.10 904.00 201.90 904.00C202.77 904.00 203.63 905.97 204.50 908.00C205.67 910.73 206.83 918.72 208.00 927.20C208.80 933.02 209.60 944.99 210.40 951.70C211.30 959.25 212.20 964.33 213.10 970.80C215.13 985.42 217.17 1011.47 219.20 1015.60C220.57 1018.38 221.93 1019.85 223.30 1020.70C224.67 1021.55 226.03 1022.40 227.40 1022.40C239.13 1022.40 250.87 1022.40 262.60 1022.40Z' fill='#3bd5f3' fill-opacity='0.5' stroke='none'/><path d='M78.60 1022.40C91.83 1022.40 105.07 1022.40 118.30 1022.40C119.33 1022.40 120.37 1015.59 121.40 1013.60C123.10 1010.33 124.80 1006.50 126.50 1006.50C128.20 1006.50 129.90 1008.57 131.60 1009.50C133.63 1010.61 135.67 1012.60 137.70 1012.60C140.40 1012.60 143.10 1011.20 145.80 1011.20C149.20 1011.20 152.60 1011.88 156.00 1012.00C158.73 1012.10 161.47 1012.20 164.20 1012.20C166.23 1012.20 168.27 1010.78 170.30 1009.50C171.67 1008.64 173.03 1007.06 174.40 1005.40C176.10 1003.33 177.80 1001.44 179.50 997.30C181.20 993.16 182.90 979.19 184.60 970.80C186.63 960.76 188.67 951.49 190.70 942.20C192.37 934.59 194.03 926.57 195.70 919.90C196.97 914.83 198.23 907.64 199.50 906.00C200.30 904.96 201.10 904.00 201.90 904.00C202.77 904.00 203.63 905.97 204.50 908.00C205.67 910.73 206.83 918.72 208.00 927.20C208.80 933.02 209.60 944.99 210.40 951.70C211.30 959.25 212.20 964.33 213.10 970.80C215.13 985.42 217.17 1011.47 219.20 1015.60C220.57 1018.38 221.93 1019.85 223.30 1020.70C224.67 1021.55 226.03 1022.40 227.40 1022.40C239.13 1022.40 250.87 1022.40 262.60 1022.40' fill='none' stroke='#2ec8f0' stroke-width='1.3'/>
<path d='M78.60 1088.00C92.17 1088.00 105.73 1088.00 119.30 1088.00C122.03 1088.00 124.77 1072.70 127.50 1072.70C128.87 1072.70 130.23 1075.20 131.60 1075.20C133.30 1075.20 135.00 1070.70 136.70 1070.70C138.40 1070.70 140.10 1072.70 141.80 1072.70C143.50 1072.70 145.20 1071.70 146.90 1071.70C148.23 1071.70 149.57 1075.80 150.90 1075.80C153.97 1075.80 157.03 1072.66 160.10 1071.70C162.83 1070.84 165.57 1070.99 168.30 1069.70C169.63 1069.07 170.97 1065.07 172.30 1062.50C175.03 1057.24 177.77 1050.39 180.50 1045.20C181.87 1042.61 183.23 1041.63 184.60 1038.00C185.97 1034.37 187.33 1017.90 188.70 1015.60C190.03 1013.35 191.37 1013.67 192.70 1011.60C194.07 1009.48 195.43 1001.86 196.80 997.30C198.83 990.51 200.87 977.90 202.90 977.90C203.60 977.90 204.30 979.00 205.00 979.00C206.00 979.00 207.00 974.90 208.00 974.90C209.03 974.90 210.07 983.81 211.10 991.20C212.13 998.59 213.17 1013.99 214.20 1025.80C215.53 1041.03 216.87 1067.56 218.20 1072.70C220.60 1081.95 223.00 1088.00 225.40 1088.00C237.80 1088.00 250.20 1088.00 262.60 1088.00Z' fill='#e7323b' fill-opacity='0.5' stroke='none'/><path d='M78.60 1088.00C92.17 1088.00 105.73 1088.00 119.30 1088.00C122.03 1088.00 124.77 1072.70 127.50 1072.70C128.87 1072.70 130.23 1075.20 131.60 1075.20C133.30 1075.20 135.00 1070.70 136.70 1070.70C138.40 1070.70 140.10 1072.70 141.80 1072.70C143.50 1072.70 145.20 1071.70 146.90 1071.70C148.23 1071.70 149.57 1075.80 150.90 1075.80C153.97 1075.80 157.03 1072.66 160.10 1071.70C162.83 1070.84 165.57 1070.99 168.30 1069.70C169.63 1069.07 170.97 1065.07 172.30 1062.50C175.03 1057.24 177.77 1050.39 180.50 1045.20C181.87 1042.61 183.23 1041.63 184.60 1038.00C185.97 1034.37 187.33 1017.90 188.70 1015.60C190.03 1013.35 191.37 1013.67 192.70 1011.60C194.07 1009.48 195.43 1001.86 196.80 997.30C198.83 990.51 200.87 977.90 202.90 977.90C203.60 977.90 204.30 979.00 205.00 979.00C206.00 979.00 207.00 974.90 208.00 974.90C209.03 974.90 210.07 983.81 211.10 991.20C212.13 998.59 213.17 1013.99 214.20 1025.80C215.53 1041.03 216.87 1067.56 218.20 1072.70C220.60 1081.95 223.00 1088.00 225.40 1088.00C237.80 1088.00 250.20 1088.00 262.60 1088.00' fill='none' stroke='#ee2a2a' stroke-width='1.3'/>
<path d='M200.5 823.2V1088.0' stroke='#222' stroke-width='1.2' stroke-dasharray='2.6 1.8'/>
<rect x='77.9' y='823.2' width='185.4' height='264.8' fill='none' stroke='#555' stroke-width='1.1'/>
<path d='M88.3 1088.0v4M106.8 1088.0v2M117.7 1088.0v2M125.4 1088.0v2M131.4 1088.0v2M136.2 1088.0v2M140.4 1088.0v2M143.9 1088.0v2M147.1 1088.0v2M149.9 1088.0v4M165.1 1088.0v2M174.0 1088.0v2M180.4 1088.0v2M185.3 1088.0v2M189.3 1088.0v2M192.7 1088.0v2M195.6 1088.0v2M198.2 1088.0v2M200.5 1088.0v4M213.6 1088.0v2M221.3 1088.0v2M226.7 1088.0v2M231.0 1088.0v2M234.4 1088.0v2M237.3 1088.0v2M239.9 1088.0v2M242.1 1088.0v2M244.1 1088.0v4' stroke='#000' stroke-width='0.9'/>
<text x='94.0' y='1103' font-family="'Liberation Serif',serif" font-size='8' text-anchor='middle' fill='#222'>-10<tspan dy='-3.5' font-size='6'>3</tspan></text>
<text x='121.8' y='1103' font-family="'Liberation Serif',serif" font-size='8' text-anchor='middle' fill='#222'>0</text>
<text x='154.0' y='1103' font-family="'Liberation Serif',serif" font-size='8' text-anchor='middle' fill='#222'>10<tspan dy='-3.5' font-size='6'>3</tspan></text>
<text x='205.5' y='1103' font-family="'Liberation Serif',serif" font-size='8' text-anchor='middle' fill='#222'>10<tspan dy='-3.5' font-size='6'>4</tspan></text>
<text x='249.5' y='1103' font-family="'Liberation Serif',serif" font-size='8' text-anchor='middle' fill='#222'>10<tspan dy='-3.5' font-size='6'>5</tspan></text>
<text transform='translate(62.7,954.7) rotate(-90)' text-anchor='middle' dominant-baseline='central' font-family="'Liberation Serif',serif" font-weight='bold' font-size='12.4'>DCFH-DA</text>
<rect x='285.5' y='838.7' width='13' height='13' fill='#fbc896' stroke='#f9b070' stroke-width='1'/>
<text x='303.2' y='848.2' font-family="'Liberation Serif',serif" font-size='9.5' fill='#222' textLength='25.5' lengthAdjust='spacingAndGlyphs'>Normal</text>
<rect x='285.5' y='861.7' width='13' height='13' fill='#9deaf9' stroke='#38d8f8' stroke-width='1'/>
<text x='303.2' y='871.2' font-family="'Liberation Serif',serif" font-size='9.5' fill='#222' textLength='19' lengthAdjust='spacingAndGlyphs'>NBP</text>
<rect x='285.5' y='884.9' width='13' height='13' fill='#f7a2a5' stroke='#f58a8f' stroke-width='1'/>
<text x='303.2' y='894.4' font-family="'Liberation Serif',serif" font-size='9.5' fill='#222' textLength='25' lengthAdjust='spacingAndGlyphs'>DMSO</text>
<text x='12.0' y='830.6' font-family="'Liberation Sans',sans-serif" font-weight='bold' font-size='24'>h</text>
<path d='M698.90 956.20C712.23 956.13 725.57 956.17 738.90 956.00C741.27 955.97 743.63 953.55 746.00 953.30C750.77 952.79 755.53 953.08 760.30 952.50C761.67 952.33 763.03 951.25 764.40 949.90C765.77 948.55 767.13 945.09 768.50 940.70C769.83 936.42 771.17 927.84 772.50 918.30C773.87 908.52 775.23 890.38 776.60 877.50C777.97 864.62 779.33 840.80 780.70 840.80C782.20 840.80 783.70 852.33 785.20 861.20C786.43 868.49 787.67 881.37 788.90 891.80C790.23 903.07 791.57 917.86 792.90 926.40C794.60 937.29 796.30 950.06 798.00 951.90C799.70 953.74 801.40 954.49 803.10 955.00C805.13 955.61 807.17 956.20 809.20 956.20C834.27 956.20 859.33 956.20 884.40 956.20Z' fill='#f7912d' fill-opacity='0.5' stroke='none'/><path d='M698.90 956.20C712.23 956.13 725.57 956.17 738.90 956.00C741.27 955.97 743.63 953.55 746.00 953.30C750.77 952.79 755.53 953.08 760.30 952.50C761.67 952.33 763.03 951.25 764.40 949.90C765.77 948.55 767.13 945.09 768.50 940.70C769.83 936.42 771.17 927.84 772.50 918.30C773.87 908.52 775.23 890.38 776.60 877.50C777.97 864.62 779.33 840.80 780.70 840.80C782.20 840.80 783.70 852.33 785.20 861.20C786.43 868.49 787.67 881.37 788.90 891.80C790.23 903.07 791.57 917.86 792.90 926.40C794.60 937.29 796.30 950.06 798.00 951.90C799.70 953.74 801.40 954.49 803.10 955.00C805.13 955.61 807.17 956.20 809.20 956.20C834.27 956.20 859.33 956.20 884.40 956.20' fill='none' stroke='#f7912d' stroke-width='1.3'/>
<path d='M698.90 1022.40C712.30 1022.33 725.70 1022.34 739.10 1022.20C745.90 1022.13 752.70 1021.18 759.50 1018.70C761.53 1017.96 763.57 1014.02 765.60 1008.50C766.97 1004.79 768.33 995.72 769.70 984.00C770.63 975.99 771.57 955.57 772.50 945.00C773.67 931.79 774.83 916.18 776.00 912.00C777.57 906.39 779.13 902.00 780.70 902.00C782.40 902.00 784.10 909.92 785.80 918.30C787.17 925.03 788.53 946.21 789.90 959.00C790.30 962.74 790.70 966.80 791.10 969.80C792.80 982.57 794.50 994.42 796.20 1000.40C798.60 1008.84 801.00 1016.15 803.40 1017.70C807.80 1020.54 812.20 1022.17 816.60 1022.20C839.20 1022.37 861.80 1022.33 884.40 1022.40Z' fill='#3bd5f3' fill-opacity='0.5' stroke='none'/><path d='M698.90 1022.40C712.30 1022.33 725.70 1022.34 739.10 1022.20C745.90 1022.13 752.70 1021.18 759.50 1018.70C761.53 1017.96 763.57 1014.02 765.60 1008.50C766.97 1004.79 768.33 995.72 769.70 984.00C770.63 975.99 771.57 955.57 772.50 945.00C773.67 931.79 774.83 916.18 776.00 912.00C777.57 906.39 779.13 902.00 780.70 902.00C782.40 902.00 784.10 909.92 785.80 918.30C787.17 925.03 788.53 946.21 789.90 959.00C790.30 962.74 790.70 966.80 791.10 969.80C792.80 982.57 794.50 994.42 796.20 1000.40C798.60 1008.84 801.00 1016.15 803.40 1017.70C807.80 1020.54 812.20 1022.17 816.60 1022.20C839.20 1022.37 861.80 1022.33 884.40 1022.40' fill='none' stroke='#2ec8f0' stroke-width='1.3'/>
<path d='M698.90 1087.00C713.00 1087.00 727.10 1087.00 741.20 1087.00C743.90 1087.00 746.60 1085.00 749.30 1085.00C752.03 1085.00 754.77 1085.69 757.50 1086.00C760.57 1086.35 763.63 1087.00 766.70 1087.00C768.03 1087.00 769.37 1071.84 770.70 1061.50C772.07 1050.90 773.43 1032.89 774.80 1020.80C776.17 1008.71 777.53 995.92 778.90 988.10C780.60 978.37 782.30 965.70 784.00 965.70C785.37 965.70 786.73 974.38 788.10 982.00C789.30 988.69 790.50 1004.28 791.70 1014.60C793.20 1027.50 794.70 1043.09 796.20 1051.30C798.23 1062.43 800.27 1071.05 802.30 1075.80C804.37 1080.63 806.43 1085.93 808.50 1086.00C833.80 1086.92 859.10 1086.67 884.40 1087.00Z' fill='#e7323b' fill-opacity='0.5' stroke='none'/><path d='M698.90 1087.00C713.00 1087.00 727.10 1087.00 741.20 1087.00C743.90 1087.00 746.60 1085.00 749.30 1085.00C752.03 1085.00 754.77 1085.69 757.50 1086.00C760.57 1086.35 763.63 1087.00 766.70 1087.00C768.03 1087.00 769.37 1071.84 770.70 1061.50C772.07 1050.90 773.43 1032.89 774.80 1020.80C776.17 1008.71 777.53 995.92 778.90 988.10C780.60 978.37 782.30 965.70 784.00 965.70C785.37 965.70 786.73 974.38 788.10 982.00C789.30 988.69 790.50 1004.28 791.70 1014.60C793.20 1027.50 794.70 1043.09 796.20 1051.30C798.23 1062.43 800.27 1071.05 802.30 1075.80C804.37 1080.63 806.43 1085.93 808.50 1086.00C833.80 1086.92 859.10 1086.67 884.40 1087.00' fill='none' stroke='#ee2a2a' stroke-width='1.3'/>
<path d='M780.8 822.4V1087.0' stroke='#222' stroke-width='1.2' stroke-dasharray='2.6 1.8'/>
<rect x='698.2' y='822.4' width='186.9' height='264.6' fill='none' stroke='#555' stroke-width='1.1'/>
<path d='M706.0 1087.0v4M716.3 1087.0v2M722.3 1087.0v2M726.6 1087.0v2M729.9 1087.0v2M732.6 1087.0v2M734.9 1087.0v2M736.9 1087.0v2M738.6 1087.0v2M740.2 1087.0v4M752.9 1087.0v2M760.3 1087.0v2M765.6 1087.0v2M769.7 1087.0v2M773.0 1087.0v2M775.9 1087.0v2M778.3 1087.0v2M780.5 1087.0v2M782.4 1087.0v4M795.0 1087.0v2M802.3 1087.0v2M807.6 1087.0v2M811.6 1087.0v2M814.9 1087.0v2M817.7 1087.0v2M820.1 1087.0v2M822.3 1087.0v2M824.2 1087.0v4M836.8 1087.0v2M844.1 1087.0v2M849.4 1087.0v2M853.4 1087.0v2M856.7 1087.0v2M859.5 1087.0v2M861.9 1087.0v2M864.1 1087.0v2M866.0 1087.0v4' stroke='#000' stroke-width='0.9'/>
<text x='711.0' y='1103' font-family="'Liberation Serif',serif" font-size='8' text-anchor='middle' fill='#222'>10<tspan dy='-3.5' font-size='6'>1</tspan></text>
<text x='745.0' y='1103' font-family="'Liberation Serif',serif" font-size='8' text-anchor='middle' fill='#222'>10<tspan dy='-3.5' font-size='6'>2</tspan></text>
<text x='787.0' y='1103' font-family="'Liberation Serif',serif" font-size='8' text-anchor='middle' fill='#222'>10<tspan dy='-3.5' font-size='6'>3</tspan></text>
<text x='829.0' y='1103' font-family="'Liberation Serif',serif" font-size='8' text-anchor='middle' fill='#222'>10<tspan dy='-3.5' font-size='6'>4</tspan></text>
<text x='871.0' y='1103' font-family="'Liberation Serif',serif" font-size='8' text-anchor='middle' fill='#222'>10<tspan dy='-3.5' font-size='6'>5</tspan></text>
<text transform='translate(682.3,956.5) rotate(-90)' text-anchor='middle' dominant-baseline='central' font-family="'Liberation Serif',serif" font-weight='bold' font-size='13.6'>BODIPY</text>
<rect x='894.2' y='838.5' width='13' height='13' fill='#fbc896' stroke='#f9b070' stroke-width='1'/>
<text x='911.4' y='848.0' font-family="'Liberation Serif',serif" font-size='9.5' fill='#222' textLength='25.5' lengthAdjust='spacingAndGlyphs'>Normal</text>
<rect x='894.2' y='862.5' width='13' height='13' fill='#9deaf9' stroke='#38d8f8' stroke-width='1'/>
<text x='911.4' y='872.0' font-family="'Liberation Serif',serif" font-size='9.5' fill='#222' textLength='19' lengthAdjust='spacingAndGlyphs'>NBP</text>
<rect x='894.2' y='885.9' width='13' height='13' fill='#f7a2a5' stroke='#f58a8f' stroke-width='1'/>
<text x='911.4' y='895.4' font-family="'Liberation Serif',serif" font-size='9.5' fill='#222' textLength='25' lengthAdjust='spacingAndGlyphs'>DMSO</text>
<text x='657.0' y='831.0' font-family="'Liberation Sans',sans-serif" font-weight='bold' font-size='24'>j</text>
</svg></body></html>
